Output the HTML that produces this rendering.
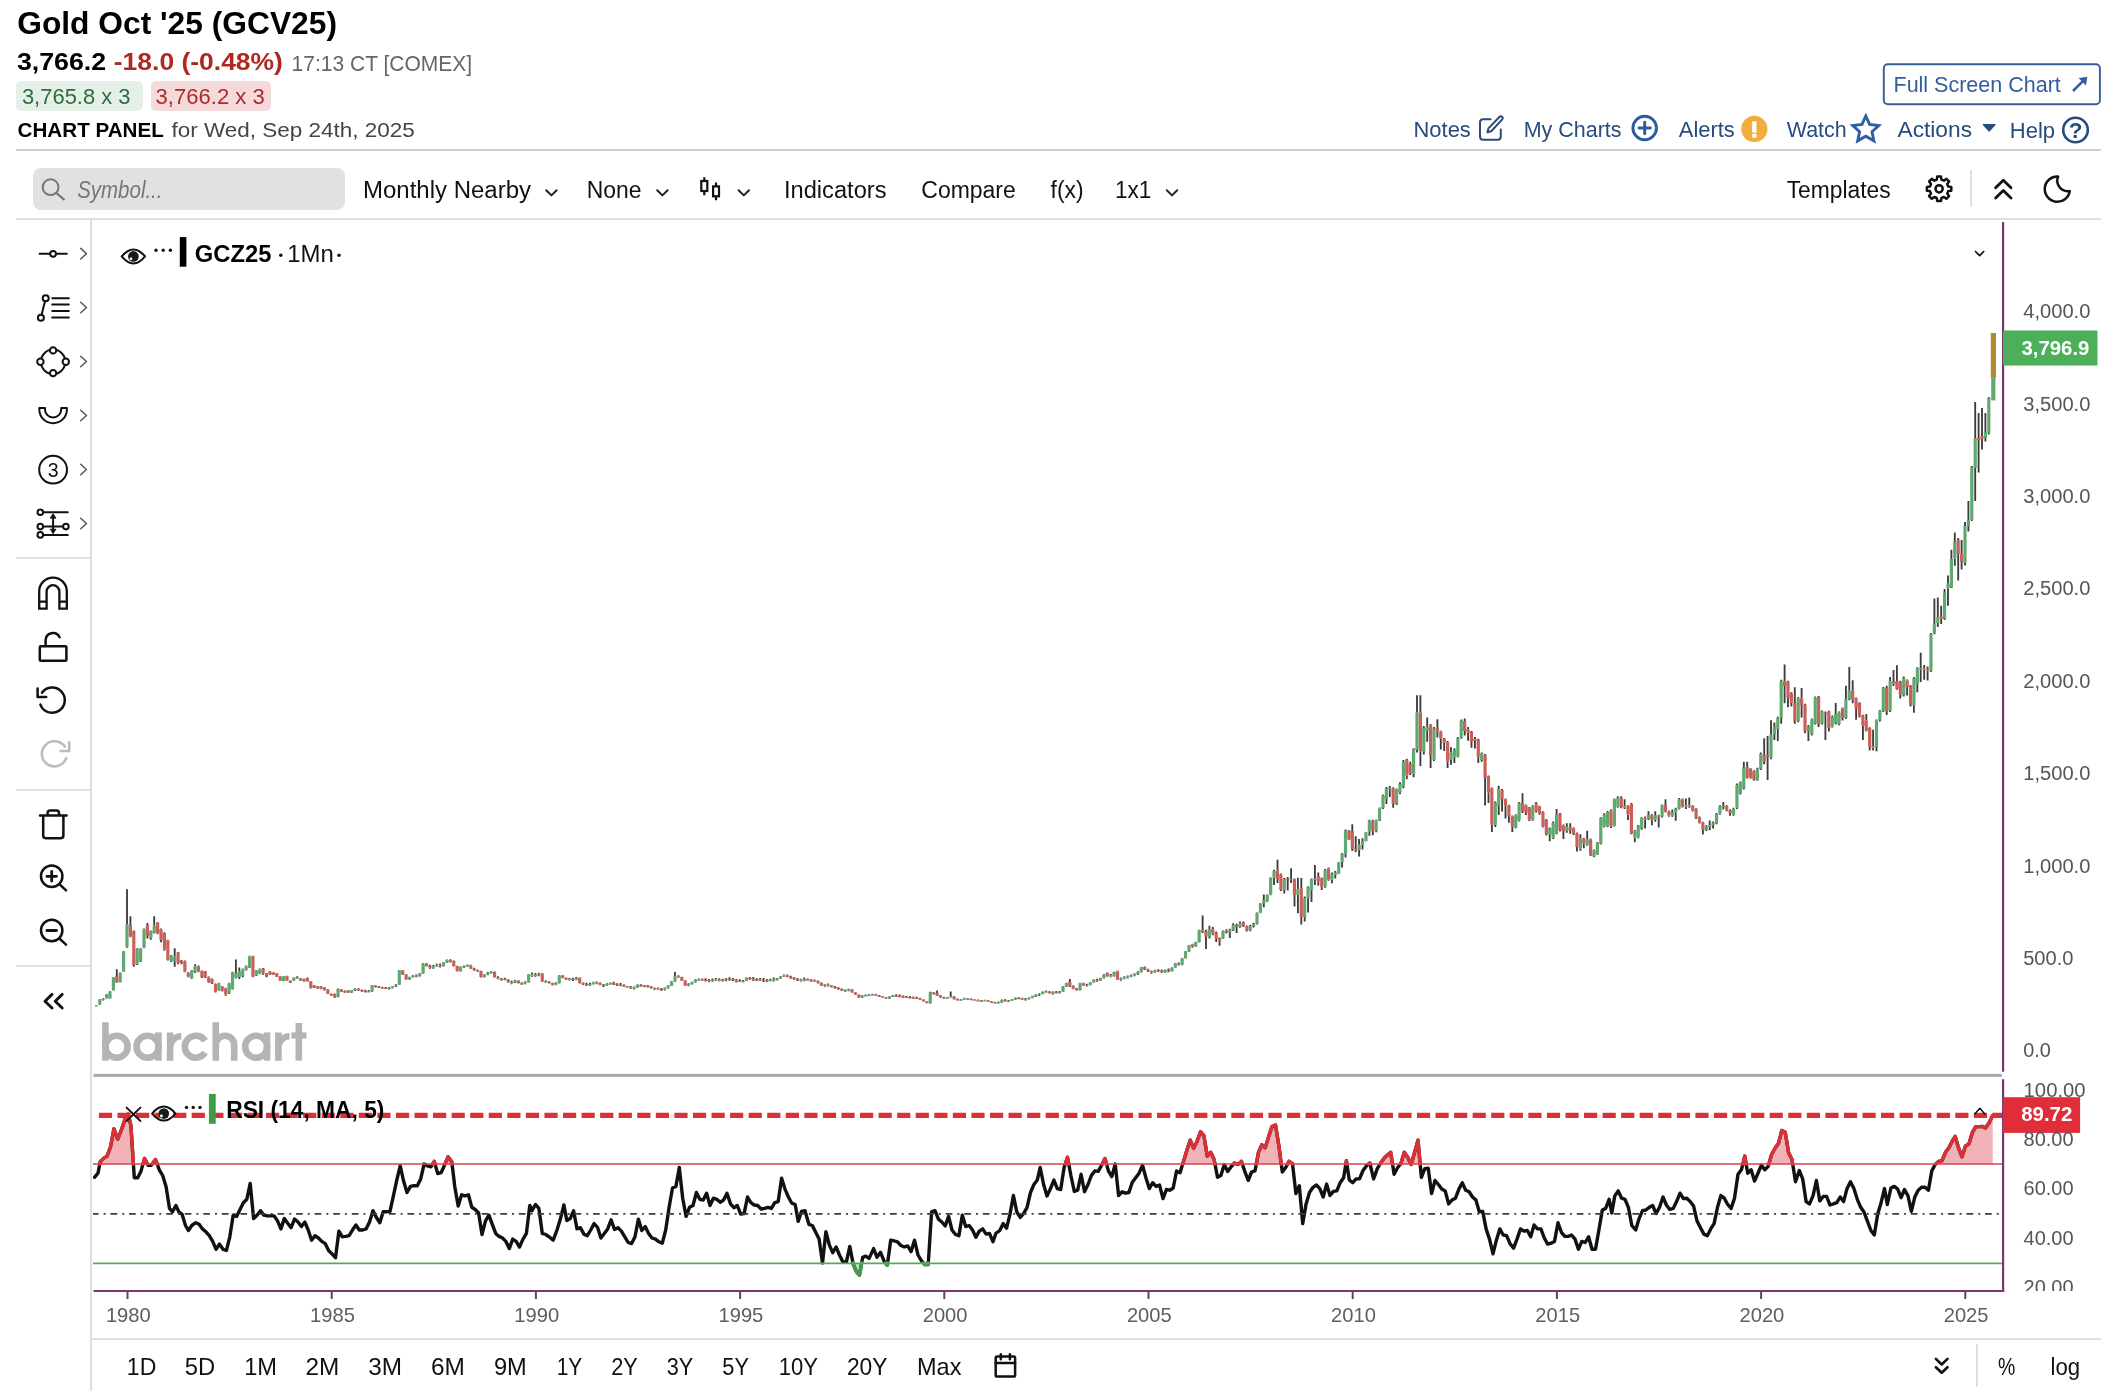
<!DOCTYPE html>
<html><head><meta charset="utf-8"><title>Gold Oct '25 (GCV25) Chart</title>
<style>
html,body{margin:0;padding:0;background:#fff;}
body{width:2112px;height:1400px;position:relative;overflow:hidden;font-family:"Liberation Sans",sans-serif;color:#111;}
.t{position:absolute;white-space:nowrap;line-height:1;transform-origin:0 0;}
.b{font-weight:bold;}
.i{font-style:italic;}
.hl{position:absolute;height:2px;background:#d4d4d4;}
.vl{position:absolute;width:2px;background:#dedede;}
.box{position:absolute;}
svg{position:absolute;left:0;top:0;overflow:visible;}
</style></head><body>
<!-- header boxes -->
<div class="box" style="left:16px;top:80.9px;width:126.6px;height:30px;background:#e4f0e7;border-radius:5px;"></div>
<div class="box" style="left:150.8px;top:80.9px;width:120.1px;height:30px;background:#f5dadb;border-radius:5px;"></div>
<!-- rules -->
<div class="hl" style="left:16px;top:149px;width:2085px;background:#cfcfcf;"></div>
<div class="hl" style="left:16px;top:218px;width:2085px;background:#e0e0e0;"></div>
<div class="vl" style="left:90px;top:219px;height:1172px;"></div>
<div class="hl" style="left:16px;top:557px;width:75px;background:#e0e0e0;"></div>
<div class="hl" style="left:16px;top:789px;width:75px;background:#e0e0e0;"></div>
<div class="hl" style="left:16px;top:965px;width:75px;background:#e0e0e0;"></div>
<div class="hl" style="left:91px;top:1338px;width:2010px;background:#e0e0e0;"></div>
<div class="vl" style="left:1969.5px;top:170px;height:37px;background:#e0e0e0;"></div>
<div class="vl" style="left:1975.5px;top:1344px;height:43px;background:#e0e0e0;"></div>
<!-- search box -->
<div class="box" style="left:33.2px;top:167.7px;width:311.8px;height:41.9px;background:#e1e1e1;border-radius:8px;"></div>
<svg width="2112" height="1400" viewBox="0 0 2112 1400">
<defs><clipPath id="cp"><rect x="93" y="222" width="1909.5" height="852"/></clipPath>
<clipPath id="cl"><rect x="2000" y="1070" width="112" height="221"/></clipPath>
<clipPath id="cr"><rect x="93" y="1078" width="1909.5" height="212"/></clipPath></defs>
<!-- chart frame -->
<rect x="93.5" y="1073.9" width="1908.3" height="3" fill="#aaaaaa"/>
<g clip-path="url(#cr)">
<path d="M99.8 1164.0L100.2 1161.8L103.6 1158.4L107.0 1156.1L110.5 1147.0L113.9 1128.9L117.7 1139.1L121.8 1128.9L125.2 1118.6L128.2 1114.1L130.9 1125.5L133.4 1164.0L133.4 1164.0L99.8 1164.0Z" fill="#f2b3b8" stroke="none"/>
<path d="M143.0 1164.0L144.5 1158.4L147.3 1164.0L147.3 1164.0L143.0 1164.0Z" fill="#f2b3b8" stroke="none"/>
<path d="M152.2 1164.0L155.5 1159.5L157.1 1164.0L157.1 1164.0L152.2 1164.0Z" fill="#f2b3b8" stroke="none"/>
<path d="M432.7 1164.0L434.3 1161.4L435.1 1164.0L435.1 1164.0L432.7 1164.0Z" fill="#f2b3b8" stroke="none"/>
<path d="M445.0 1164.0L448.0 1156.8L451.8 1161.8L452.1 1164.0L452.1 1164.0L445.0 1164.0Z" fill="#f2b3b8" stroke="none"/>
<path d="M1065.3 1164.0L1067.5 1157.3L1068.8 1164.0L1068.8 1164.0L1065.3 1164.0Z" fill="#f2b3b8" stroke="none"/>
<path d="M1102.2 1164.0L1105.0 1158.4L1106.5 1164.0L1106.5 1164.0L1102.2 1164.0Z" fill="#f2b3b8" stroke="none"/>
<path d="M1182.7 1164.0L1183.4 1161.8L1186.8 1150.5L1190.2 1140.2L1193.6 1148.2L1197.0 1141.4L1200.5 1131.8L1203.9 1135.7L1207.3 1156.1L1210.7 1152.3L1214.1 1159.5L1214.9 1164.0L1214.9 1164.0L1182.7 1164.0Z" fill="#f2b3b8" stroke="none"/>
<path d="M1233.6 1164.0L1234.5 1163.0L1236.8 1164.0L1236.8 1164.0L1233.6 1164.0Z" fill="#f2b3b8" stroke="none"/>
<path d="M1238.5 1164.0L1241.4 1161.4L1242.3 1164.0L1242.3 1164.0L1238.5 1164.0Z" fill="#f2b3b8" stroke="none"/>
<path d="M1256.3 1164.0L1258.4 1152.7L1261.8 1144.8L1265.2 1147.7L1268.6 1136.8L1272.0 1126.6L1275.5 1125.0L1278.9 1145.9L1281.2 1164.0L1281.2 1164.0L1256.3 1164.0Z" fill="#f2b3b8" stroke="none"/>
<path d="M1287.6 1164.0L1289.1 1161.4L1292.5 1163.6L1292.5 1164.0L1292.5 1164.0L1287.6 1164.0Z" fill="#f2b3b8" stroke="none"/>
<path d="M1345.8 1164.0L1346.4 1160.7L1346.9 1164.0L1346.9 1164.0L1345.8 1164.0Z" fill="#f2b3b8" stroke="none"/>
<path d="M1368.6 1164.0L1369.8 1163.0L1370.0 1164.0L1370.0 1164.0L1368.6 1164.0Z" fill="#f2b3b8" stroke="none"/>
<path d="M1380.1 1164.0L1381.1 1162.3L1384.5 1157.7L1388.0 1154.5L1390.7 1152.3L1392.5 1164.0L1392.5 1164.0L1380.1 1164.0Z" fill="#f2b3b8" stroke="none"/>
<path d="M1400.6 1164.0L1400.9 1163.6L1404.3 1152.3L1407.7 1157.3L1410.9 1164.0L1410.9 1164.0L1400.6 1164.0Z" fill="#f2b3b8" stroke="none"/>
<path d="M1411.3 1164.0L1414.5 1152.7L1418.0 1140.2L1420.1 1164.0L1420.1 1164.0L1411.3 1164.0Z" fill="#f2b3b8" stroke="none"/>
<path d="M1742.8 1164.0L1744.8 1156.1L1746.1 1164.0L1746.1 1164.0L1742.8 1164.0Z" fill="#f2b3b8" stroke="none"/>
<path d="M1768.9 1164.0L1771.6 1154.5L1775.0 1148.2L1778.4 1143.6L1781.8 1130.5L1785.2 1132.3L1788.6 1152.7L1792.0 1159.5L1792.7 1164.0L1792.7 1164.0L1768.9 1164.0Z" fill="#f2b3b8" stroke="none"/>
<path d="M1935.8 1164.0L1938.6 1161.4L1942.0 1160.7L1945.5 1152.3L1948.9 1147.7L1952.3 1140.9L1955.2 1136.4L1958.6 1148.2L1962.0 1156.8L1965.5 1145.9L1968.9 1144.1L1972.3 1132.7L1975.7 1126.6L1979.1 1126.6L1982.5 1126.5L1985.5 1128.0L1989.0 1123.0L1992.7 1115.4L1992.7 1164.0L1935.8 1164.0Z" fill="#f2b3b8" stroke="none"/>
<path d="M853.0 1263.0L853.2 1264.1L856.6 1272.0L859.5 1275.0L861.7 1263.0L861.7 1263.0L853.0 1263.0Z" fill="#bfe3c3" stroke="none"/>
<path d="M885.6 1263.0L887.3 1265.2L887.6 1263.0L887.6 1263.0L885.6 1263.0Z" fill="#bfe3c3" stroke="none"/>
<path d="M923.4 1263.0L924.8 1264.5L928.2 1264.5L928.3 1263.0L928.3 1263.0L923.4 1263.0Z" fill="#bfe3c3" stroke="none"/>
<path d="M94.5 1177.3L98.0 1173.2L100.2 1161.8L103.6 1158.4L107.0 1156.1L110.5 1147.0L113.9 1128.9L117.7 1139.1L121.8 1128.9L125.2 1118.6L128.2 1114.1L130.9 1125.5L134.3 1177.7L137.7 1177.7L141.1 1170.9L144.5 1158.4L148.0 1165.2L151.4 1165.2L155.5 1159.5L159.3 1169.8L162.7 1175.5L166.1 1186.8L169.5 1208.4L172.5 1211.8L175.9 1205.5L179.1 1212.3L182.0 1214.1L185.5 1225.5L188.4 1230.5L191.8 1225.5L195.7 1222.7L199.1 1224.3L202.5 1228.9L205.9 1231.8L209.3 1235.7L212.7 1241.4L216.1 1249.3L219.5 1244.1L223.0 1249.3L226.4 1250.5L229.8 1236.8L233.2 1215.2L236.6 1216.4L240.0 1209.5L243.4 1202.7L246.8 1199.3L250.2 1183.4L253.6 1218.6L257.0 1215.2L260.5 1210.7L263.9 1215.2L267.3 1215.9L270.7 1215.9L274.1 1215.9L277.5 1220.9L280.9 1228.9L284.3 1218.6L287.7 1223.2L291.1 1227.7L294.5 1219.1L298.0 1222.0L301.4 1226.6L304.8 1222.0L308.2 1230.0L311.6 1240.2L315.0 1235.7L318.4 1238.0L321.8 1241.4L325.2 1243.6L328.6 1250.5L332.0 1253.9L335.5 1257.7L338.9 1231.1L342.3 1236.8L345.7 1236.4L349.1 1235.7L352.5 1230.0L355.9 1225.0L359.3 1230.0L362.7 1230.0L366.1 1228.9L369.5 1222.0L373.0 1210.7L376.4 1217.5L379.8 1222.7L383.2 1211.8L386.6 1211.8L390.0 1211.4L393.4 1195.9L396.8 1180.0L400.2 1165.9L403.6 1181.1L407.0 1192.5L410.5 1186.4L413.9 1185.7L417.3 1185.7L420.7 1178.9L424.1 1164.1L427.5 1165.9L430.9 1166.8L434.3 1161.4L437.7 1173.6L441.1 1172.7L444.5 1165.2L448.0 1156.8L451.8 1161.8L454.8 1186.8L458.2 1206.1L461.6 1194.8L465.0 1195.9L468.4 1194.8L471.8 1207.3L475.2 1209.5L478.6 1213.0L482.0 1234.5L485.5 1220.9L488.9 1215.2L492.3 1224.3L495.7 1233.4L499.1 1236.4L502.5 1238.0L505.9 1241.4L509.3 1248.6L512.7 1239.1L516.1 1241.4L519.5 1247.0L523.0 1239.1L526.4 1233.4L529.8 1205.5L532.0 1210.7L535.5 1204.5L538.9 1208.4L542.3 1233.4L545.7 1234.5L549.1 1236.8L553.2 1240.2L557.0 1230.0L560.5 1218.6L563.9 1205.0L566.8 1220.5L570.2 1218.6L573.6 1210.7L577.0 1228.9L580.5 1227.7L583.9 1234.1L587.3 1235.7L590.7 1230.0L594.1 1223.6L597.5 1227.3L600.9 1238.0L604.3 1233.4L607.7 1228.9L611.1 1219.8L614.5 1229.5L618.0 1227.7L621.4 1231.1L624.8 1236.8L628.2 1242.5L631.6 1243.6L635.0 1236.8L638.4 1219.1L641.8 1230.5L645.2 1226.6L648.6 1233.4L652.0 1238.0L655.5 1239.1L658.9 1241.8L662.3 1243.2L665.7 1230.0L669.1 1207.3L672.5 1188.0L675.9 1186.4L679.3 1167.5L682.7 1198.2L686.1 1216.4L689.5 1207.3L693.0 1205.5L696.4 1192.5L699.8 1199.3L703.2 1200.0L706.6 1193.2L710.0 1205.5L713.4 1198.2L716.8 1199.3L720.2 1202.3L723.6 1200.0L727.0 1193.2L730.5 1203.9L733.9 1207.7L737.3 1205.5L740.7 1214.1L744.1 1213.6L747.5 1197.0L750.9 1202.7L754.3 1205.0L757.7 1205.5L761.1 1209.1L764.5 1208.4L768.0 1207.3L771.4 1208.4L774.8 1202.7L778.2 1201.6L781.6 1178.2L785.0 1189.1L788.4 1197.0L791.8 1203.2L795.2 1204.5L798.2 1221.4L801.4 1211.4L805.0 1210.7L808.9 1224.3L812.3 1225.5L815.7 1232.3L819.1 1239.1L822.5 1263.0L825.9 1231.8L829.3 1244.8L832.7 1252.7L836.1 1247.0L839.5 1255.0L843.0 1262.3L846.4 1261.8L849.8 1246.4L853.2 1264.1L856.6 1272.0L859.5 1275.0L862.7 1257.3L865.7 1256.1L869.1 1258.4L873.6 1248.6L877.0 1257.3L880.5 1252.3L883.9 1260.7L887.3 1265.2L890.7 1240.2L894.1 1240.9L897.5 1241.8L900.9 1245.5L904.3 1247.0L907.7 1245.9L911.1 1251.6L914.5 1240.2L918.0 1255.0L921.4 1260.7L924.8 1264.5L928.2 1264.5L931.6 1211.8L935.0 1210.7L938.4 1219.1L941.8 1222.0L945.2 1225.9L948.6 1216.4L952.0 1230.0L955.5 1234.5L958.9 1235.7L962.3 1215.2L965.7 1226.6L969.1 1225.5L972.5 1230.0L975.9 1237.3L979.3 1231.1L982.7 1228.9L986.1 1234.1L989.5 1233.4L993.0 1241.8L995.9 1233.4L999.8 1230.5L1003.2 1223.6L1006.6 1228.2L1010.0 1214.1L1013.4 1195.5L1016.8 1211.8L1020.2 1217.5L1023.6 1213.6L1027.0 1207.7L1030.5 1192.5L1033.9 1184.5L1037.3 1180.0L1040.2 1167.5L1043.6 1184.5L1047.0 1195.9L1050.5 1188.6L1053.9 1180.0L1057.3 1188.6L1060.7 1189.5L1064.1 1167.5L1067.5 1157.3L1070.9 1175.5L1074.3 1191.4L1077.7 1190.2L1081.1 1174.3L1084.5 1191.8L1088.0 1184.5L1091.4 1175.5L1094.8 1170.9L1098.2 1171.4L1101.6 1165.2L1105.0 1158.4L1108.4 1170.9L1111.8 1176.6L1115.2 1164.1L1118.6 1195.5L1122.0 1191.8L1125.5 1193.2L1128.9 1192.5L1132.3 1182.3L1135.7 1177.7L1139.1 1173.2L1142.5 1165.2L1145.9 1177.7L1149.3 1188.6L1152.7 1182.7L1156.1 1186.4L1159.5 1185.0L1163.0 1198.6L1166.4 1189.5L1169.8 1190.2L1173.2 1188.0L1176.6 1170.9L1180.0 1172.7L1183.4 1161.8L1186.8 1150.5L1190.2 1140.2L1193.6 1148.2L1197.0 1141.4L1200.5 1131.8L1203.9 1135.7L1207.3 1156.1L1210.7 1152.3L1214.1 1159.5L1217.5 1177.3L1220.9 1175.5L1224.3 1164.5L1227.7 1171.4L1231.1 1166.8L1234.5 1163.0L1238.0 1164.5L1241.4 1161.4L1244.8 1171.4L1248.2 1180.5L1251.6 1172.0L1255.0 1170.9L1258.4 1152.7L1261.8 1144.8L1265.2 1147.7L1268.6 1136.8L1272.0 1126.6L1275.5 1125.0L1278.9 1145.9L1282.3 1172.0L1285.7 1167.5L1289.1 1161.4L1292.5 1163.6L1295.9 1193.6L1299.3 1185.7L1302.7 1223.6L1306.1 1203.9L1309.5 1192.5L1313.0 1187.3L1316.4 1185.0L1319.8 1188.6L1323.2 1197.0L1326.6 1184.1L1330.0 1195.5L1333.4 1191.4L1336.8 1190.9L1340.2 1182.7L1343.6 1177.7L1346.4 1160.7L1349.3 1180.0L1352.7 1182.7L1356.1 1178.9L1359.5 1178.9L1363.0 1170.5L1366.4 1165.9L1369.8 1163.0L1373.6 1178.9L1377.3 1168.6L1381.1 1162.3L1384.5 1157.7L1388.0 1154.5L1390.7 1152.3L1394.1 1174.3L1397.7 1167.5L1400.9 1163.6L1404.3 1152.3L1407.7 1157.3L1411.1 1164.5L1414.5 1152.7L1418.0 1140.2L1421.4 1177.3L1424.8 1168.6L1428.2 1168.2L1431.6 1193.6L1435.0 1180.5L1438.4 1184.5L1441.8 1189.1L1445.2 1190.9L1448.6 1203.9L1452.0 1200.0L1455.5 1198.2L1458.9 1189.1L1462.3 1182.7L1465.7 1190.2L1469.1 1191.8L1472.5 1197.0L1475.9 1200.0L1479.3 1211.8L1482.7 1211.4L1486.1 1228.9L1489.5 1239.1L1493.0 1253.9L1496.4 1240.2L1499.8 1228.9L1503.2 1235.0L1506.6 1235.7L1510.0 1243.6L1513.6 1248.2L1517.0 1239.1L1520.5 1228.9L1523.9 1231.1L1527.3 1230.5L1530.7 1236.8L1534.1 1225.0L1537.5 1228.9L1540.9 1228.9L1544.3 1238.0L1547.7 1244.1L1551.1 1243.2L1554.5 1241.4L1558.0 1222.7L1561.4 1232.3L1564.8 1236.4L1568.2 1236.4L1571.6 1235.0L1575.0 1239.1L1578.4 1249.3L1581.8 1241.4L1585.2 1242.5L1588.6 1236.8L1592.0 1249.3L1595.5 1249.3L1598.9 1230.0L1602.3 1210.0L1605.7 1208.4L1609.1 1199.3L1611.8 1213.0L1614.8 1195.9L1618.2 1190.9L1621.6 1198.2L1625.0 1199.3L1628.4 1207.3L1631.8 1225.5L1635.7 1230.0L1639.1 1218.6L1642.5 1210.7L1645.9 1210.0L1649.3 1207.3L1652.7 1205.5L1656.1 1213.6L1659.5 1207.3L1663.0 1197.0L1666.4 1205.0L1669.8 1209.5L1673.2 1208.4L1676.6 1201.6L1680.0 1193.2L1683.4 1198.6L1686.8 1198.2L1690.2 1201.6L1693.6 1206.1L1697.0 1220.9L1700.5 1227.7L1703.9 1234.1L1707.3 1235.7L1710.7 1228.9L1714.1 1223.6L1717.5 1207.3L1720.9 1195.5L1724.3 1198.2L1727.7 1204.5L1731.1 1208.4L1734.5 1198.2L1738.0 1174.3L1741.4 1169.8L1744.8 1156.1L1747.7 1173.2L1751.1 1169.8L1754.5 1181.1L1758.0 1173.2L1761.4 1165.2L1764.8 1169.8L1768.2 1166.4L1771.6 1154.5L1775.0 1148.2L1778.4 1143.6L1781.8 1130.5L1785.2 1132.3L1788.6 1152.7L1792.0 1159.5L1795.5 1181.8L1799.3 1170.5L1802.7 1178.9L1806.1 1201.6L1809.5 1203.9L1813.0 1195.9L1816.4 1180.5L1819.8 1200.9L1823.2 1196.4L1826.6 1196.4L1830.0 1205.0L1833.4 1203.9L1836.8 1202.7L1840.2 1197.0L1843.6 1201.6L1847.0 1188.6L1850.5 1181.8L1853.9 1188.6L1857.3 1199.3L1860.7 1207.3L1864.1 1212.3L1867.5 1221.4L1870.9 1230.5L1874.3 1235.0L1877.7 1214.1L1881.1 1202.7L1884.5 1188.6L1887.3 1204.5L1890.9 1188.0L1894.3 1186.4L1897.7 1189.1L1901.1 1197.7L1904.5 1189.5L1908.0 1195.9L1911.4 1211.4L1914.8 1197.0L1918.2 1190.2L1921.6 1187.3L1925.0 1187.3L1928.4 1190.2L1931.8 1170.9L1935.2 1164.5L1938.6 1161.4L1942.0 1160.7L1945.5 1152.3L1948.9 1147.7L1952.3 1140.9L1955.2 1136.4L1958.6 1148.2L1962.0 1156.8L1965.5 1145.9L1968.9 1144.1L1972.3 1132.7L1975.7 1126.6L1979.1 1126.6L1982.5 1126.5L1985.5 1128.0L1989.0 1123.0L1992.7 1115.4" fill="none" stroke="#111" stroke-width="3.4" stroke-linejoin="round" stroke-linecap="round"/>
<path d="M99.8 1164.0L100.2 1161.8L103.6 1158.4L107.0 1156.1L110.5 1147.0L113.9 1128.9L117.7 1139.1L121.8 1128.9L125.2 1118.6L128.2 1114.1L130.9 1125.5L133.4 1164.0" fill="none" stroke="#dc3038" stroke-width="3.4" stroke-linejoin="round" stroke-linecap="round"/>
<path d="M143.0 1164.0L144.5 1158.4L147.3 1164.0" fill="none" stroke="#dc3038" stroke-width="3.4" stroke-linejoin="round" stroke-linecap="round"/>
<path d="M152.2 1164.0L155.5 1159.5L157.1 1164.0" fill="none" stroke="#dc3038" stroke-width="3.4" stroke-linejoin="round" stroke-linecap="round"/>
<path d="M432.7 1164.0L434.3 1161.4L435.1 1164.0" fill="none" stroke="#dc3038" stroke-width="3.4" stroke-linejoin="round" stroke-linecap="round"/>
<path d="M445.0 1164.0L448.0 1156.8L451.8 1161.8L452.1 1164.0" fill="none" stroke="#dc3038" stroke-width="3.4" stroke-linejoin="round" stroke-linecap="round"/>
<path d="M1065.3 1164.0L1067.5 1157.3L1068.8 1164.0" fill="none" stroke="#dc3038" stroke-width="3.4" stroke-linejoin="round" stroke-linecap="round"/>
<path d="M1102.2 1164.0L1105.0 1158.4L1106.5 1164.0" fill="none" stroke="#dc3038" stroke-width="3.4" stroke-linejoin="round" stroke-linecap="round"/>
<path d="M1182.7 1164.0L1183.4 1161.8L1186.8 1150.5L1190.2 1140.2L1193.6 1148.2L1197.0 1141.4L1200.5 1131.8L1203.9 1135.7L1207.3 1156.1L1210.7 1152.3L1214.1 1159.5L1214.9 1164.0" fill="none" stroke="#dc3038" stroke-width="3.4" stroke-linejoin="round" stroke-linecap="round"/>
<path d="M1233.6 1164.0L1234.5 1163.0L1236.8 1164.0" fill="none" stroke="#dc3038" stroke-width="3.4" stroke-linejoin="round" stroke-linecap="round"/>
<path d="M1238.5 1164.0L1241.4 1161.4L1242.3 1164.0" fill="none" stroke="#dc3038" stroke-width="3.4" stroke-linejoin="round" stroke-linecap="round"/>
<path d="M1256.3 1164.0L1258.4 1152.7L1261.8 1144.8L1265.2 1147.7L1268.6 1136.8L1272.0 1126.6L1275.5 1125.0L1278.9 1145.9L1281.2 1164.0" fill="none" stroke="#dc3038" stroke-width="3.4" stroke-linejoin="round" stroke-linecap="round"/>
<path d="M1287.6 1164.0L1289.1 1161.4L1292.5 1163.6L1292.5 1164.0" fill="none" stroke="#dc3038" stroke-width="3.4" stroke-linejoin="round" stroke-linecap="round"/>
<path d="M1345.8 1164.0L1346.4 1160.7L1346.9 1164.0" fill="none" stroke="#dc3038" stroke-width="3.4" stroke-linejoin="round" stroke-linecap="round"/>
<path d="M1368.6 1164.0L1369.8 1163.0L1370.0 1164.0" fill="none" stroke="#dc3038" stroke-width="3.4" stroke-linejoin="round" stroke-linecap="round"/>
<path d="M1380.1 1164.0L1381.1 1162.3L1384.5 1157.7L1388.0 1154.5L1390.7 1152.3L1392.5 1164.0" fill="none" stroke="#dc3038" stroke-width="3.4" stroke-linejoin="round" stroke-linecap="round"/>
<path d="M1400.6 1164.0L1400.9 1163.6L1404.3 1152.3L1407.7 1157.3L1410.9 1164.0" fill="none" stroke="#dc3038" stroke-width="3.4" stroke-linejoin="round" stroke-linecap="round"/>
<path d="M1411.3 1164.0L1414.5 1152.7L1418.0 1140.2L1420.1 1164.0" fill="none" stroke="#dc3038" stroke-width="3.4" stroke-linejoin="round" stroke-linecap="round"/>
<path d="M1742.8 1164.0L1744.8 1156.1L1746.1 1164.0" fill="none" stroke="#dc3038" stroke-width="3.4" stroke-linejoin="round" stroke-linecap="round"/>
<path d="M1768.9 1164.0L1771.6 1154.5L1775.0 1148.2L1778.4 1143.6L1781.8 1130.5L1785.2 1132.3L1788.6 1152.7L1792.0 1159.5L1792.7 1164.0" fill="none" stroke="#dc3038" stroke-width="3.4" stroke-linejoin="round" stroke-linecap="round"/>
<path d="M1935.8 1164.0L1938.6 1161.4L1942.0 1160.7L1945.5 1152.3L1948.9 1147.7L1952.3 1140.9L1955.2 1136.4L1958.6 1148.2L1962.0 1156.8L1965.5 1145.9L1968.9 1144.1L1972.3 1132.7L1975.7 1126.6L1979.1 1126.6L1982.5 1126.5L1985.5 1128.0L1989.0 1123.0L1992.7 1115.4" fill="none" stroke="#dc3038" stroke-width="3.4" stroke-linejoin="round" stroke-linecap="round"/>
<path d="M853.0 1263.0L853.2 1264.1L856.6 1272.0L859.5 1275.0L861.7 1263.0" fill="none" stroke="#3f9f48" stroke-width="3.4" stroke-linejoin="round" stroke-linecap="round"/>
<path d="M885.6 1263.0L887.3 1265.2L887.6 1263.0" fill="none" stroke="#3f9f48" stroke-width="3.4" stroke-linejoin="round" stroke-linecap="round"/>
<path d="M923.4 1263.0L924.8 1264.5L928.2 1264.5L928.3 1263.0" fill="none" stroke="#3f9f48" stroke-width="3.4" stroke-linejoin="round" stroke-linecap="round"/>
<path d="M93 1164H2003" stroke="#d0454a" stroke-width="1.6"/>
<path d="M93 1263.3H2003" stroke="#55aa60" stroke-width="1.7"/>
<path d="M93 1213.9H2003" stroke="#3c3c3c" stroke-width="1.6" stroke-dasharray="6.7 5 2 4.86" stroke-dashoffset="1.06"/>
</g>
<path d="M98.9 1115.4H2003" stroke="#dc3038" stroke-width="5.2" stroke-dasharray="13.2 5.364"/>
<g clip-path="url(#cp)">
<path d="M96.4 1004.9V1005.6M99.8 999.1V999.7M99.8 1004.0V1004.7M103.2 998.3V999.1M103.2 999.8V1000.4M106.6 994.1V994.8M106.6 997.9V998.5M110.0 991.1V991.7M110.0 997.9V998.5M113.4 976.9V977.6M113.4 989.9V990.5M116.8 969.3V976.3M116.8 981.9V982.8M120.2 972.6V973.2M120.2 981.9V982.5M123.6 951.1V951.7M123.6 971.4V972.1M127.0 889.2V924.6M127.0 946.8V947.7M130.4 916.3V925.2M130.4 936.3V937.2M133.8 930.5V931.4M133.8 964.6V966.8M137.2 948.3V949.2M137.2 963.4V964.9M140.6 948.3V949.2M140.6 961.0V961.9M144.0 928.6V929.5M144.0 947.4V948.3M147.4 923.1V925.2M147.4 935.7V938.5M150.8 930.5V931.4M150.8 937.6V939.7M154.2 916.3V925.8M154.2 932.6V933.6M157.6 921.9V922.8M157.6 933.3V934.2M161.0 928.6V929.5M161.0 940.0V942.2M164.4 932.3V933.2M164.4 949.3V950.8M167.8 939.7V940.6M167.8 959.1V960.6M171.2 955.1V956.0M171.2 961.0V961.9M174.7 948.3V956.6M174.7 961.0V966.8M178.1 952.0V952.9M178.1 962.8V964.3M181.5 960.0V960.9M181.5 962.8V964.3M184.9 960.6V961.6M184.9 971.4V972.3M188.3 972.3V973.2M188.3 976.3V977.3M191.7 969.9V970.8M191.7 978.2V979.1M195.1 964.3V966.5M195.1 972.0V972.9M198.5 965.6V966.5M198.5 971.4V972.3M201.9 970.5V971.4M201.9 977.0V977.9M205.3 971.1V972.0M205.3 977.0V977.9M208.7 976.6V977.6M208.7 981.9V982.8M212.1 978.5V979.4M212.1 983.1V984.0M215.5 983.4V984.3M215.5 991.1V992.6M218.9 982.8V983.7M218.9 989.9V990.8M222.3 985.9V986.8M222.3 990.5V991.4M225.7 987.7V988.6M225.7 994.2V995.7M229.1 982.8V983.7M229.1 993.0V993.9M232.5 971.7V972.6M232.5 988.6V989.6M235.9 959.4V973.2M235.9 977.6V978.5M239.3 967.4V971.4M239.3 977.0V979.1M242.7 968.6V969.6M242.7 975.7V977.3M246.1 965.6V966.5M246.1 969.6V970.5M249.5 955.7V956.6M249.5 967.1V968.0M252.9 955.7V956.6M252.9 976.3V977.3M256.3 969.9V970.8M256.3 975.1V976.0M259.7 968.6V969.6M259.7 973.3V974.2M263.1 968.0V968.9M263.1 973.3V974.8M266.6 972.9V973.9M266.6 975.7V977.3M270.0 971.3V972.0M270.0 973.9V974.7M273.4 972.0V972.6M273.4 974.5V975.1M276.8 973.2V973.9M276.8 976.3V977.0M280.2 976.3V976.9M280.2 980.4V981.1M283.6 976.3V976.9M283.6 980.6V981.3M287.0 975.7V976.3M287.0 980.4V981.1M290.4 980.5V981.2M290.4 982.1V983.1M293.8 977.5V978.2M293.8 980.0V980.7M297.2 976.2V977.3M297.2 978.2V978.9M300.6 978.1V978.8M300.6 980.0V980.7M304.0 978.7V979.4M304.0 980.9V981.5M307.4 977.5V978.2M307.4 980.9V981.5M310.8 981.2V981.9M310.8 987.8V988.4M314.2 985.2V985.9M314.2 987.2V987.9M317.6 986.3V986.9M317.6 988.0V988.8M321.0 986.3V986.9M321.0 988.5V989.2M324.4 987.0V987.6M324.4 989.9V990.5M327.8 989.2V989.9M327.8 993.3V994.0M331.2 993.4V994.2M331.2 994.9V995.7M334.6 993.5V994.2M334.6 997.0V997.7M338.0 988.6V989.2M338.0 996.7V997.3M341.4 989.2V989.9M341.4 991.5V992.1M344.8 990.4V991.3M344.8 992.2V992.9M348.2 990.2V990.9M348.2 992.1V992.7M351.6 989.9V990.5M351.6 992.1V992.7M355.0 988.2V989.3M355.0 990.0V991.1M358.5 988.3V989.3M358.5 990.0V990.8M361.9 989.4V990.2M361.9 990.9V991.7M365.3 989.7V991.0M365.3 991.7V992.6M368.7 989.9V991.5M372.1 985.3V985.9M372.1 991.3V991.9M375.5 985.2V985.9M375.5 986.6V987.5M378.9 986.1V987.1M382.3 986.7V987.6M382.3 988.3V989.1M385.7 987.1V988.1M389.1 986.9V988.1M389.1 988.8V989.6M392.5 986.0V986.6M392.5 987.5V988.4M395.9 984.2V985.1M395.9 986.0V987.1M399.3 969.9V970.6M399.3 984.5V985.1M402.7 969.9V970.6M402.7 974.2V974.9M406.1 974.2V974.8M406.1 979.4V980.0M409.5 976.7V977.4M409.5 979.4V980.0M412.9 974.9V975.7M412.9 976.8V977.6M416.3 974.6V975.7M416.3 976.4V977.3M419.7 973.3V974.0M419.7 975.9V976.6M423.1 963.1V963.8M423.1 973.4V974.0M426.5 963.1V963.8M426.5 965.7V966.5M429.9 964.8V966.3M429.9 967.4V968.7M433.3 965.1V966.3M433.3 967.4V968.7M436.7 963.7V965.5M436.7 966.2V966.8M440.1 963.4V965.5M440.1 966.2V967.6M443.5 962.3V962.9M443.5 965.7V966.4M446.9 959.5V960.4M446.9 962.3V963.1M450.4 959.2V960.4M450.4 961.1V962.5M453.8 960.6V961.2M453.8 965.7V966.4M457.2 965.7V966.3M457.2 970.8V971.5M460.6 966.5V967.2M460.6 970.8V971.5M464.0 965.4V966.3M464.0 967.0V967.7M467.4 964.4V965.5M467.4 966.2V967.1M470.8 964.8V965.5M470.8 968.3V968.9M474.2 967.7V968.9M474.2 970.0V970.8M477.6 969.4V970.6M477.6 971.3V972.1M481.0 970.8V971.4M481.0 976.8V977.4M484.4 974.2V974.8M484.4 976.8V977.5M487.8 972.1V973.1M487.8 974.2V975.3M491.2 971.3V972.3M491.2 973.0V973.6M494.6 971.6V972.3M494.6 976.8V977.4M498.0 976.3V977.4M498.0 978.5V979.2M501.4 978.0V979.1M501.4 979.8V980.8M504.8 977.8V979.1M504.8 979.8V980.3M508.2 979.3V980.0M508.2 981.9V982.6M511.6 980.8V982.5M511.6 983.2V984.2M515.0 979.7V980.8M515.0 981.9V982.9M518.4 980.2V980.8M518.4 982.8V983.4M521.8 982.2V983.4M521.8 984.1V984.7M525.2 981.2V982.5M525.2 983.2V984.3M528.6 974.2V974.8M528.6 981.9V982.6M532.0 972.6V974.8M532.0 975.5V976.7M535.4 973.1V974.8M535.4 975.5V976.8M538.8 972.8V974.0M538.8 975.1V976.3M542.3 973.3V974.0M542.3 981.1V981.7M545.7 980.2V981.7M549.1 981.0V981.7M549.1 982.8V983.5M552.5 982.7V983.4M552.5 984.5V985.4M555.9 982.3V983.4M555.9 984.5V985.3M559.3 975.0V975.7M559.3 982.8V983.4M562.7 975.0V975.7M562.7 977.7V978.3M566.1 977.5V978.3M566.1 979.4V980.1M569.5 978.1V979.1M569.5 979.8V980.4M572.9 977.7V979.1M572.9 979.8V981.0M576.3 977.1V978.3M576.3 979.4V980.3M579.7 977.6V978.3M579.7 982.8V983.4M583.1 982.5V983.4M583.1 984.1V985.0M586.5 982.7V984.2M586.5 984.9V985.9M589.9 982.8V984.2M589.9 984.9V985.7M593.3 981.8V982.5M593.3 983.6V984.6M596.7 981.4V982.5M596.7 983.2V984.3M600.1 982.4V983.4M600.1 984.5V985.2M603.5 984.0V985.1M603.5 985.8V986.9M606.9 983.3V984.2M606.9 985.3V986.0M610.3 982.5V983.4M610.3 984.1V984.5M613.7 981.8V983.4M613.7 984.1V985.1M617.1 983.3V984.2M617.1 984.9V985.9M620.5 982.9V985.1M620.5 985.8V986.3M623.9 984.4V985.1M623.9 986.2V987.0M627.3 985.9V986.8M630.7 986.1V987.6M630.7 988.3V989.1M634.2 986.5V987.6M634.2 988.3V989.4M637.6 984.4V985.1M637.6 987.0V987.7M641.0 984.2V985.1M641.0 986.2V986.8M644.4 984.9V985.9M644.4 986.6V987.2M647.8 985.0V985.9M647.8 986.6V987.4M651.2 986.1V986.8M651.2 987.9V988.6M654.6 987.4V988.5M654.6 989.2V989.9M658.0 987.5V988.5M658.0 989.2V989.8M661.4 988.0V989.3M661.4 990.0V990.9M664.8 987.6V988.5M664.8 989.2V990.4M668.2 985.3V985.9M668.2 987.9V988.5M671.6 981.0V981.7M671.6 985.3V986.0M675.0 972.0V976.5M675.0 981.1V981.7M678.4 975.3V976.5M678.4 977.2V977.8M681.8 976.7V977.4M681.8 980.2V980.9M685.2 980.2V980.8M685.2 985.3V986.0M688.6 983.3V984.2M688.6 985.3V986.2M692.0 981.8V982.5M692.0 983.6V984.5M695.4 979.3V980.0M695.4 981.9V982.6M698.8 978.6V979.7M698.8 980.4V981.0M702.2 978.5V979.7M705.6 978.3V980.1M705.6 980.8V981.4M709.0 979.1V980.6M709.0 981.3V982.2M712.4 978.5V980.1M712.4 980.8V981.7M715.8 978.1V979.7M715.8 980.4V981.0M719.2 978.2V979.7M719.2 980.4V981.2M722.6 978.7V980.1M722.6 980.8V981.5M726.1 978.0V978.9M726.1 980.0V981.2M729.5 977.2V978.9M729.5 979.6V980.7M732.9 977.9V979.4M732.9 980.1V980.9M736.3 979.1V980.6M736.3 981.3V982.4M739.7 979.2V981.1M743.1 980.0V981.1M743.1 981.8V982.3M746.5 977.4V978.0M746.5 980.5V981.1M749.9 977.1V978.0M749.9 978.7V979.8M753.3 977.1V978.9M753.3 979.6V980.7M756.7 978.3V979.4M756.7 980.1V980.9M760.1 978.0V979.7M763.5 978.1V980.1M763.5 980.8V981.9M766.9 979.1V980.4M766.9 981.1V982.1M770.3 978.7V980.1M770.3 980.8V981.3M773.7 977.6V979.7M773.7 980.4V981.4M777.1 977.9V978.9M777.1 979.6V980.4M780.5 975.9V976.7M780.5 978.3V978.9M783.9 974.5V975.5M783.9 976.2V977.1M787.3 974.4V975.5M787.3 976.6V977.2M790.7 975.8V977.2M790.7 977.9V978.7M794.1 977.3V978.0M794.1 978.8V979.7M797.5 977.9V979.4M797.5 980.1V980.9M800.9 978.7V979.7M800.9 980.4V981.6M804.3 977.5V979.4M804.3 980.1V981.2M807.7 978.4V979.4M807.7 980.1V980.6M811.1 979.2V980.1M811.1 980.8V981.8M814.5 979.6V980.8M814.5 981.5V981.8M818.0 980.6V981.4M818.0 982.5V983.6M821.4 982.5V983.1M821.4 985.1V985.7M824.8 983.9V984.8M824.8 985.5V986.7M828.2 983.6V984.8M828.2 985.5V986.4M831.6 985.0V985.7M831.6 986.8V987.4M835.0 985.9V987.4M835.0 988.1V988.5M838.4 987.2V987.9M838.4 988.6V989.7M841.8 988.4V989.1M841.8 990.2V991.0M845.2 989.4V990.3M845.2 991.0V991.8M848.6 988.8V989.6M848.6 990.3V991.2M852.0 989.0V989.6M852.0 991.9V992.6M855.4 991.9V992.5M855.4 994.5V995.1M858.8 994.4V995.1M858.8 997.0V997.7M862.2 995.3V995.9M862.2 997.0V997.7M865.6 994.6V995.4M869.0 994.2V995.1M872.4 993.7V994.7M875.8 993.8V994.7M875.8 995.4V996.0M879.2 995.0V995.9M882.6 995.9V996.8M886.0 997.0V997.6M886.0 998.3V998.9M889.4 996.1V996.8M889.4 998.2V998.9M892.8 995.1V995.9M892.8 996.6V997.1M896.2 994.3V995.9M899.6 994.6V996.2M903.0 995.4V996.4M903.0 997.1V997.8M906.4 995.9V997.1M909.9 995.9V997.3M909.9 998.0V998.6M913.3 996.6V997.6M913.3 998.3V998.9M916.7 996.8V998.1M920.1 997.8V998.5M920.1 999.2V999.9M923.5 999.2V999.8M923.5 1000.9V1001.6M926.9 1000.9V1001.5M926.9 1002.7V1003.3M930.3 991.7V992.9M930.3 1003.0V1003.6M933.7 992.2V992.9M933.7 993.8V994.4M937.1 990.5V993.4M937.1 995.3V996.1M940.5 995.3V995.9M940.5 997.0V997.7M943.9 996.7V997.6M943.9 998.3V999.1M947.3 996.9V997.6M947.3 998.3V998.9M950.7 991.4V996.8M950.7 997.5V997.8M954.1 996.1V996.8M954.1 998.7V999.4M957.5 998.6V999.3M957.5 1000.0V1000.4M960.9 998.9V999.8M960.9 1000.5V1001.1M964.3 997.7V998.8M964.3 999.5V1000.1M967.7 997.9V998.8M967.7 999.5V1000.1M971.1 998.4V999.3M974.5 999.2V999.8M977.9 999.6V1000.5M981.3 1000.0V1000.9M984.7 999.8V1000.5M988.1 999.9V1000.5M988.1 1001.3V1001.9M991.5 1001.2V1001.9M994.9 1001.7V1002.7M998.3 1001.4V1002.7M1001.8 999.5V1000.2M1001.8 1002.1V1002.8M1005.2 999.2V1000.2M1005.2 1000.9V1001.5M1008.6 999.9V1001.0M1012.0 998.9V999.8M1012.0 1000.5V1001.1M1015.4 997.5V998.1M1015.4 999.2V999.9M1018.8 997.3V998.1M1018.8 998.8V999.3M1022.2 997.7V998.5M1022.2 999.2V999.9M1025.6 998.1V999.3M1025.6 1000.0V1000.5M1029.0 997.5V998.1M1029.0 998.8V999.5M1032.4 995.8V996.4M1032.4 997.5V998.2M1035.8 994.3V995.4M1035.8 996.1V996.9M1039.2 993.3V994.2M1039.2 994.9V995.9M1042.6 991.4V992.0M1042.6 993.6V994.3M1046.0 990.6V991.7M1049.4 991.0V991.7M1049.4 992.8V993.4M1052.8 991.4V992.0M1052.8 994.0V994.6M1056.2 990.9V992.0M1056.2 992.7V993.4M1059.6 990.9V992.0M1059.6 992.7V993.5M1063.0 986.2V986.9M1063.0 991.4V992.1M1066.4 982.8V983.5M1066.4 986.3V986.9M1069.8 978.9V982.3M1069.8 985.9V987.1M1073.2 985.4V986.0M1073.2 988.5V989.2M1076.6 988.1V989.1M1076.6 989.8V990.4M1080.0 982.8V983.5M1080.0 989.7V990.4M1083.4 982.8V983.5M1083.4 985.4V986.1M1086.8 983.8V985.2M1086.8 985.9V986.4M1090.2 981.9V982.6M1090.2 984.6V985.2M1093.7 979.4V980.0M1093.7 982.0V982.6M1097.1 978.8V980.0M1097.1 980.7V981.7M1100.5 977.7V978.3M1100.5 980.3V980.9M1103.9 974.2V974.9M1103.9 977.7V978.4M1107.3 972.5V973.2M1107.3 976.0V976.6M1110.7 974.1V975.7M1110.7 976.4V977.2M1114.1 971.7V972.3M1114.1 976.0V976.6M1117.5 970.8V971.5M1117.5 979.4V980.1M1120.9 977.5V978.8M1120.9 979.5V980.7M1124.3 976.2V977.5M1124.3 978.2V979.2M1127.7 975.5V976.8M1127.7 977.5V978.4M1131.1 974.6V975.7M1131.1 976.5V977.3M1134.5 973.2V974.5M1134.5 975.5V976.3M1137.9 971.3V972.3M1137.9 973.9V974.9M1141.3 967.0V967.7M1141.3 971.7V972.4M1144.7 966.4V967.2M1144.7 969.1V970.0M1148.1 968.8V969.7M1148.1 971.0V971.9M1151.5 970.4V971.6M1151.5 972.3V973.8M1154.9 969.7V970.6M1154.9 971.7V972.8M1158.3 969.2V970.3M1158.3 971.0V972.1M1161.7 969.6V970.9M1161.7 972.1V972.8M1165.1 969.4V970.3M1165.1 972.1V972.8M1168.5 968.6V970.3M1168.5 971.0V972.3M1171.9 967.4V968.0M1171.9 970.9V971.5M1175.3 963.1V963.7M1175.3 967.4V968.1M1178.7 962.5V963.4M1178.7 964.2V965.5M1182.1 957.9V958.6M1182.1 964.5V965.2M1185.6 951.1V951.7M1185.6 958.0V958.6M1189.0 945.1V945.7M1189.0 951.1V951.8M1192.4 943.8V944.5M1192.4 946.3V947.8M1195.8 941.7V942.3M1195.8 946.3V947.0M1199.2 929.7V930.3M1199.2 941.7V942.4M1202.6 915.4V930.5M1202.6 931.6V932.9M1206.0 929.8V931.2M1206.0 936.1V948.9M1209.4 925.7V929.8M1209.4 936.6V938.6M1212.8 927.1V929.1M1212.8 933.5V935.2M1216.2 931.6V932.9M1216.2 938.8V942.0M1219.6 937.4V938.9M1219.6 940.5V945.8M1223.0 930.5V931.2M1223.0 938.3V938.9M1226.4 929.2V930.8M1226.4 931.9V933.6M1229.8 928.8V930.1M1229.8 931.9V938.1M1233.2 923.2V925.2M1233.2 929.5V930.9M1236.6 923.7V925.2M1236.6 926.6V932.9M1240.0 921.6V923.5M1240.0 926.6V927.8M1243.4 921.4V922.9M1243.4 925.8V927.0M1246.8 925.4V926.4M1246.8 930.1V931.6M1250.2 924.9V926.4M1250.2 930.1V931.2M1253.6 922.7V924.3M1253.6 925.8V927.5M1257.0 912.5V913.2M1257.0 923.7V924.4M1260.4 903.1V903.7M1260.4 912.6V913.2M1263.8 894.5V900.3M1263.8 903.1V907.2M1267.2 894.5V895.2M1267.2 901.1V901.7M1270.6 877.4V878.0M1270.6 894.6V895.2M1274.0 869.8V871.2M1274.0 877.4V884.9M1277.5 859.7V870.8M1277.5 878.6V882.9M1280.9 873.4V874.6M1280.9 889.8V891.1M1284.3 878.1V879.2M1284.3 889.8V893.5M1287.7 876.9V879.2M1287.7 879.9V890.6M1291.1 868.3V879.2M1291.1 879.9V882.9M1294.5 878.6V879.7M1294.5 894.9V906.4M1297.9 877.7V889.5M1297.9 894.9V913.2M1301.3 878.1V888.6M1301.3 916.9V924.4M1304.7 896.6V898.6M1304.7 916.9V921.6M1308.1 886.3V887.4M1308.1 898.0V912.4M1311.5 878.6V879.7M1311.5 889.4V902.1M1314.9 864.9V879.0M1314.9 879.7V884.9M1318.3 872.6V876.3M1318.3 881.2V885.4M1321.7 877.4V878.9M1321.7 886.3V890.1M1325.1 869.1V870.6M1325.1 886.3V887.7M1328.5 867.4V868.6M1328.5 879.5V880.8M1331.9 872.6V874.6M1331.9 879.5V883.2M1335.3 870.9V872.9M1335.3 874.8V878.6M1338.7 861.9V862.6M1338.7 873.1V873.8M1342.1 852.9V854.0M1342.1 862.0V867.4M1345.5 829.4V830.9M1345.5 853.4V857.5M1348.9 830.2V830.9M1348.9 839.4V840.1M1352.3 824.2V831.4M1352.3 848.6V851.1M1355.7 836.2V848.9M1355.7 849.6V852.3M1359.1 839.1V844.9M1359.1 849.6V856.6M1362.5 838.3V841.2M1362.5 844.3V849.4M1365.9 831.9V832.6M1365.9 840.6V841.2M1369.4 819.8V821.4M1369.4 832.0V835.7M1372.8 819.8V821.1M1372.8 830.4V835.2M1376.2 819.4V820.6M1376.2 830.4V832.3M1379.6 807.4V808.6M1379.6 820.0V821.1M1383.0 794.6V795.7M1383.0 808.0V809.1M1386.4 786.9V788.9M1386.4 798.6V804.0M1389.8 786.0V788.0M1389.8 789.1V797.1M1393.2 787.2V788.5M1393.2 803.7V807.8M1396.6 788.6V789.7M1396.6 803.7V804.9M1400.0 782.3V784.3M1400.0 792.2V794.2M1403.4 760.1V762.1M1403.4 785.4V788.2M1406.8 758.7V760.1M1406.8 775.5V779.2M1410.2 761.8V764.2M1410.2 773.1V775.1M1413.6 748.2V749.3M1413.6 773.4V777.2M1417.0 695.3V712.7M1417.0 749.6V752.4M1420.4 695.3V712.7M1420.4 751.3V766.1M1423.8 726.0V728.0M1423.8 751.3V754.5M1427.2 717.5V727.7M1427.2 730.8V741.7M1430.6 724.0V725.5M1430.6 754.7V768.1M1434.0 726.9V728.9M1434.0 759.8V761.0M1437.4 719.2V728.9M1437.4 731.2V737.4M1440.8 730.8V731.8M1440.8 738.5V749.4M1444.2 738.0V739.1M1444.2 742.4V751.1M1447.6 741.0V742.5M1447.6 761.5V768.1M1451.0 747.3V752.7M1451.0 759.8V764.7M1454.4 748.2V750.2M1454.4 756.4V763.0M1457.8 737.1V738.3M1457.8 756.4V757.6M1461.3 719.5V721.2M1461.3 737.7V738.8M1464.7 718.4V721.2M1464.7 730.8V735.4M1468.1 726.9V729.7M1468.1 732.9V740.8M1471.5 731.1V732.3M1471.5 741.1V747.7M1474.9 737.1V739.1M1474.9 740.7V748.5M1478.3 738.8V740.0M1478.3 756.4V763.0M1481.7 752.4V753.9M1481.7 759.8V761.8M1485.1 754.1V755.3M1485.1 777.7V805.6M1488.5 775.4V776.6M1488.5 792.2V803.1M1491.9 787.4V788.5M1491.9 824.6V832.0M1495.3 801.4V803.0M1495.3 824.6V826.9M1498.7 785.7V789.4M1498.7 805.8V815.0M1502.1 789.1V790.2M1502.1 799.0V811.6M1505.5 798.5V799.6M1505.5 805.3V818.4M1508.9 804.8V805.9M1508.9 816.1V822.7M1512.3 815.5V816.7M1512.3 826.3V832.0M1515.7 814.3V815.8M1515.7 827.1V828.3M1519.1 801.9V803.0M1519.1 820.3V821.5M1522.5 793.3V803.0M1522.5 810.9V812.9M1525.9 804.4V805.6M1525.9 812.1V815.0M1529.3 807.0V808.1M1529.3 819.5V821.1M1532.7 805.3V806.4M1532.7 819.5V820.8M1536.1 801.9V803.4M1536.1 810.9V812.6M1539.5 805.8V806.8M1539.5 813.0V814.7M1542.9 811.2V812.4M1542.9 826.3V827.6M1546.3 818.9V820.1M1546.3 834.0V835.4M1549.7 827.4V828.9M1549.7 834.8V841.2M1553.2 821.5V823.5M1553.2 837.4V838.9M1556.6 808.9V815.0M1556.6 833.1V834.3M1560.0 812.9V814.1M1560.0 829.7V831.4M1563.4 824.5V825.5M1563.4 831.1V838.9M1566.8 823.2V826.9M1566.8 830.5V832.7M1570.2 823.2V827.2M1570.2 830.0V833.7M1573.6 827.4V828.6M1573.6 834.0V835.1M1577.0 832.5V833.7M1577.0 846.7V851.6M1580.4 834.3V838.8M1580.4 848.4V850.8M1583.8 837.7V838.8M1583.8 843.3V848.2M1587.2 830.8V839.7M1587.2 844.2V845.7M1590.6 838.5V839.7M1590.6 854.4V855.9M1594.0 849.6V850.7M1594.0 856.1V857.3M1597.4 841.9V843.1M1597.4 853.6V854.7M1600.8 817.2V818.4M1600.8 843.3V844.5M1604.2 813.3V815.0M1604.2 826.3V827.6M1607.6 810.9V812.4M1607.6 825.4V826.9M1611.0 809.2V810.7M1611.0 826.3V827.9M1614.4 798.5V799.6M1614.4 825.4V826.6M1617.8 796.2V797.9M1617.8 806.7V807.8M1621.2 796.2V797.9M1621.2 806.7V808.2M1624.6 799.3V806.1M1624.6 807.2V808.9M1628.0 805.3V806.4M1628.0 814.4V820.1M1631.4 803.1V804.4M1631.4 833.1V834.3M1634.8 830.0V831.5M1634.8 837.4V842.3M1638.2 824.9V826.0M1638.2 837.4V838.5M1641.6 817.2V818.4M1641.6 828.0V829.7M1645.1 816.4V818.7M1645.1 819.4V828.6M1648.5 811.2V815.0M1648.5 818.6V820.1M1651.9 814.3V815.3M1651.9 819.5V825.2M1655.3 811.2V815.8M1655.3 819.5V821.8M1658.7 814.7V815.8M1658.7 816.5V827.6M1662.1 804.4V805.6M1662.1 816.1V817.4M1665.5 799.3V805.9M1665.5 811.3V812.6M1668.9 810.4V811.5M1668.9 815.4V816.7M1672.3 809.5V812.4M1672.3 815.2V816.7M1675.7 807.8V809.0M1675.7 812.3V820.8M1679.1 797.9V799.6M1679.1 808.4V809.5M1682.5 798.5V799.6M1682.5 806.2V807.5M1685.9 798.5V805.6M1685.9 806.3V808.9M1689.3 797.6V805.6M1689.3 806.3V807.8M1692.7 805.3V806.4M1692.7 810.3V811.6M1696.1 808.2V809.3M1696.1 817.8V819.1M1699.5 816.4V817.5M1699.5 822.2V823.5M1702.9 821.8V822.8M1702.9 829.7V834.4M1706.3 825.2V826.9M1706.3 829.7V831.0M1709.7 820.6V825.2M1709.7 826.6V830.3M1713.1 821.5V823.1M1713.1 824.9V828.6M1716.5 812.9V814.1M1716.5 822.9V824.2M1719.9 805.3V806.4M1719.9 813.5V814.7M1723.3 801.9V806.1M1723.3 806.8V809.5M1726.7 805.3V806.4M1726.7 809.6V811.2M1730.1 809.2V810.2M1730.1 813.0V815.8M1733.5 807.8V809.0M1733.5 814.4V815.7M1737.0 783.6V785.1M1737.0 807.5V808.9M1740.4 781.4V782.9M1740.4 793.0V794.5M1743.8 761.8V768.1M1743.8 787.9V789.4M1747.2 761.8V767.2M1747.2 776.9V778.5M1750.6 768.2V769.3M1750.6 777.5V778.7M1754.0 770.2V771.2M1754.0 779.7V780.8M1757.4 767.7V769.3M1757.4 779.7V780.8M1760.8 752.5V754.4M1760.8 768.7V769.9M1764.2 738.3V755.9M1764.2 761.1V764.3M1767.6 736.0V755.1M1767.6 756.1V780.0M1771.0 720.3V734.7M1771.0 757.7V759.2M1774.4 722.6V726.9M1774.4 734.1V740.1M1777.8 716.8V718.2M1777.8 728.6V741.0M1781.2 679.7V681.3M1781.2 717.6V723.7M1784.6 664.5V681.6M1784.6 685.7V703.3M1788.0 680.7V682.1M1788.0 698.0V707.2M1791.4 692.3V693.9M1791.4 702.7V706.4M1794.8 687.3V703.3M1794.8 720.8V723.7M1798.2 697.0V698.6M1798.2 720.8V722.2M1801.6 688.1V698.6M1801.6 704.6V717.4M1805.0 703.8V704.9M1805.0 731.0V733.2M1808.4 725.0V726.9M1808.4 731.0V741.0M1811.8 718.4V719.8M1811.8 734.1V735.4M1815.2 696.4V697.8M1815.2 723.1V724.4M1818.6 695.9V697.0M1818.6 723.9V726.9M1822.0 710.5V711.9M1822.0 723.1V724.4M1825.4 711.6V713.0M1825.4 713.7V740.1M1828.9 710.8V711.9M1828.9 727.8V731.6M1832.3 715.6V717.4M1832.3 726.3V727.5M1835.7 703.0V714.3M1835.7 723.1V724.4M1839.1 711.6V712.7M1839.1 723.9V725.3M1842.5 707.4V708.8M1842.5 717.6V720.6M1845.9 685.7V699.4M1845.9 717.6V719.0M1849.3 666.9V690.7M1849.3 698.8V700.2M1852.7 680.2V690.7M1852.7 699.5V703.3M1856.1 697.5V698.6M1856.1 708.2V719.8M1859.5 702.2V703.3M1859.5 716.0V717.4M1862.9 714.8V715.9M1862.9 725.5V740.1M1866.3 714.0V720.6M1866.3 730.2V731.6M1869.7 727.3V728.4M1869.7 746.7V750.4M1873.1 729.7V746.5M1873.1 747.5V750.4M1876.5 719.5V720.6M1876.5 746.7V751.2M1879.9 710.1V711.1M1879.9 720.0V721.5M1883.3 687.0V688.4M1883.3 710.5V712.1M1886.7 685.7V688.4M1886.7 710.5V715.1M1890.1 677.1V681.3M1890.1 710.5V712.1M1893.5 670.0V682.1M1893.5 683.5V686.0M1896.9 665.3V681.3M1896.9 688.5V689.8M1900.3 680.7V682.1M1900.3 694.0V698.6M1903.7 676.6V678.2M1903.7 694.8V696.4M1907.1 679.4V680.5M1907.1 687.0V695.4M1910.5 684.9V686.0M1910.5 705.0V706.4M1913.9 677.1V678.2M1913.9 705.0V712.7M1917.3 667.2V668.7M1917.3 683.8V692.3M1920.7 652.7V668.4M1920.7 669.1V682.1M1924.2 665.0V668.7M1924.2 669.4V679.7M1927.6 666.5V669.7M1927.6 670.4V680.5M1931.0 633.1V634.2M1931.0 670.5V671.9M1934.4 598.5V624.7M1934.4 632.8V634.2M1937.8 597.4V617.2M1937.8 622.6V627.1M1941.2 605.7V616.9M1941.2 618.6V624.0M1944.6 589.1V592.9M1944.6 618.6V620.0M1948.0 575.4V583.7M1948.0 588.3V605.7M1951.4 549.7V559.2M1951.4 587.1V588.0M1954.8 532.6V542.0M1954.8 558.6V565.7M1958.2 538.0V540.3M1958.2 553.7V580.4M1961.6 540.0V554.3M1961.6 561.7V569.4M1965.0 522.0V526.3M1965.0 562.7V565.4M1968.4 501.0V520.3M1968.4 525.7V531.4M1971.8 466.0V467.3M1971.8 519.7V521.0M1975.2 402.0V438.3M1975.2 467.7V501.0M1978.6 413.0V438.3M1978.6 439.7V472.4M1982.0 408.0V436.3M1982.0 438.7V449.4M1985.4 413.0V432.3M1985.4 437.7V441.4M1988.8 397.0V398.3M1988.8 432.7V434.4" stroke="#3c3c3c" stroke-width="1.85" fill="none"/>
<path d="M94.77 1005.3h3.2v1.3h-3.2zM98.17 999.4h3.2v4.9h-3.2zM101.57 998.8h3.2v1.3h-3.2zM104.98 994.5h3.2v3.7h-3.2zM108.38 991.4h3.2v6.8h-3.2zM111.79 977.3h3.2v12.9h-3.2zM118.59 972.9h3.2v9.2h-3.2zM122.00 951.4h3.2v20.3h-3.2zM125.40 924.3h3.2v22.8h-3.2zM135.61 948.9h3.2v14.8h-3.2zM139.01 948.9h3.2v12.3h-3.2zM142.42 929.2h3.2v18.5h-3.2zM149.23 931.1h3.2v6.8h-3.2zM152.63 925.5h3.2v7.4h-3.2zM169.65 955.7h3.2v5.5h-3.2zM173.05 956.3h3.2v4.9h-3.2zM190.07 970.5h3.2v8.0h-3.2zM193.47 966.2h3.2v6.2h-3.2zM217.30 983.4h3.2v6.8h-3.2zM227.51 983.4h3.2v9.8h-3.2zM230.91 972.3h3.2v16.6h-3.2zM234.32 972.9h3.2v4.9h-3.2zM237.72 971.1h3.2v6.2h-3.2zM241.13 969.3h3.2v6.8h-3.2zM244.53 966.2h3.2v3.7h-3.2zM247.93 956.3h3.2v11.1h-3.2zM254.74 970.5h3.2v4.9h-3.2zM258.14 969.3h3.2v4.3h-3.2zM281.97 976.6h3.2v4.3h-3.2zM292.18 977.9h3.2v2.5h-3.2zM295.58 977.0h3.2v1.5h-3.2zM336.43 988.9h3.2v8.0h-3.2zM350.04 990.2h3.2v2.2h-3.2zM353.45 989.0h3.2v1.3h-3.2zM370.47 985.6h3.2v6.0h-3.2zM387.48 987.8h3.2v1.3h-3.2zM390.89 986.3h3.2v1.5h-3.2zM394.29 984.8h3.2v1.5h-3.2zM397.70 970.3h3.2v14.5h-3.2zM407.91 977.1h3.2v2.6h-3.2zM411.31 975.4h3.2v1.7h-3.2zM418.12 973.7h3.2v2.6h-3.2zM421.52 963.5h3.2v10.2h-3.2zM431.73 966.0h3.2v1.7h-3.2zM435.14 965.2h3.2v1.3h-3.2zM441.94 962.6h3.2v3.4h-3.2zM445.35 960.1h3.2v2.6h-3.2zM458.96 966.9h3.2v4.3h-3.2zM462.37 966.0h3.2v1.3h-3.2zM465.77 965.2h3.2v1.3h-3.2zM482.79 974.5h3.2v2.6h-3.2zM486.19 972.8h3.2v1.7h-3.2zM489.60 972.0h3.2v1.3h-3.2zM499.81 978.8h3.2v1.3h-3.2zM510.02 982.2h3.2v1.3h-3.2zM513.42 980.5h3.2v1.7h-3.2zM520.23 983.1h3.2v1.3h-3.2zM523.63 982.2h3.2v1.3h-3.2zM527.04 974.5h3.2v7.7h-3.2zM530.44 974.5h3.2v1.3h-3.2zM537.25 973.7h3.2v1.7h-3.2zM544.06 981.4h3.2v1.3h-3.2zM554.27 983.1h3.2v1.7h-3.2zM557.67 975.4h3.2v7.7h-3.2zM567.88 978.8h3.2v1.3h-3.2zM574.69 978.0h3.2v1.7h-3.2zM588.30 983.9h3.2v1.3h-3.2zM591.71 982.2h3.2v1.7h-3.2zM605.32 983.9h3.2v1.7h-3.2zM608.73 983.1h3.2v1.3h-3.2zM618.94 984.8h3.2v1.3h-3.2zM632.55 987.3h3.2v1.3h-3.2zM635.96 984.8h3.2v2.6h-3.2zM642.76 985.6h3.2v1.3h-3.2zM652.97 988.2h3.2v1.3h-3.2zM663.18 988.2h3.2v1.4h-3.2zM666.59 985.6h3.2v2.6h-3.2zM669.99 981.4h3.2v4.3h-3.2zM673.40 976.2h3.2v5.1h-3.2zM687.01 983.9h3.2v1.7h-3.2zM690.41 982.2h3.2v1.7h-3.2zM693.82 979.7h3.2v2.6h-3.2zM697.22 979.4h3.2v1.3h-3.2zM710.84 979.8h3.2v1.3h-3.2zM714.24 979.4h3.2v1.3h-3.2zM724.45 978.6h3.2v1.7h-3.2zM741.47 980.8h3.2v1.3h-3.2zM744.87 977.7h3.2v3.1h-3.2zM765.30 980.1h3.2v1.3h-3.2zM768.70 979.8h3.2v1.3h-3.2zM772.10 979.4h3.2v1.3h-3.2zM775.51 978.6h3.2v1.3h-3.2zM778.91 976.4h3.2v2.2h-3.2zM782.31 975.2h3.2v1.3h-3.2zM799.33 979.4h3.2v1.3h-3.2zM802.74 979.1h3.2v1.3h-3.2zM823.16 984.5h3.2v1.3h-3.2zM843.58 990.0h3.2v1.3h-3.2zM846.98 989.3h3.2v1.3h-3.2zM860.60 995.6h3.2v1.7h-3.2zM864.00 995.1h3.2v1.3h-3.2zM867.41 994.8h3.2v1.3h-3.2zM870.81 994.4h3.2v1.3h-3.2zM887.83 996.5h3.2v2.0h-3.2zM891.23 995.6h3.2v1.3h-3.2zM928.67 992.6h3.2v10.7h-3.2zM945.69 997.3h3.2v1.3h-3.2zM949.10 996.5h3.2v1.3h-3.2zM959.31 999.5h3.2v1.3h-3.2zM962.71 998.5h3.2v1.3h-3.2zM979.73 1000.6h3.2v1.3h-3.2zM983.13 1000.2h3.2v1.3h-3.2zM993.34 1002.4h3.2v1.3h-3.2zM996.75 1002.4h3.2v1.3h-3.2zM1000.15 999.9h3.2v2.6h-3.2zM1006.96 1000.7h3.2v1.3h-3.2zM1010.36 999.5h3.2v1.3h-3.2zM1013.77 997.8h3.2v1.7h-3.2zM1023.98 999.0h3.2v1.3h-3.2zM1027.38 997.8h3.2v1.3h-3.2zM1030.78 996.1h3.2v1.7h-3.2zM1034.19 995.1h3.2v1.3h-3.2zM1037.59 993.9h3.2v1.3h-3.2zM1041.00 991.7h3.2v2.2h-3.2zM1044.40 991.4h3.2v1.3h-3.2zM1051.21 991.7h3.2v2.6h-3.2zM1058.01 991.7h3.2v1.3h-3.2zM1061.42 986.6h3.2v5.1h-3.2zM1064.82 983.2h3.2v3.4h-3.2zM1078.44 983.2h3.2v6.9h-3.2zM1085.24 984.9h3.2v1.3h-3.2zM1088.65 982.3h3.2v2.6h-3.2zM1092.05 979.7h3.2v2.6h-3.2zM1098.86 978.0h3.2v2.6h-3.2zM1102.26 974.6h3.2v3.4h-3.2zM1109.07 975.4h3.2v1.3h-3.2zM1112.47 972.0h3.2v4.3h-3.2zM1119.28 978.5h3.2v1.3h-3.2zM1122.68 977.2h3.2v1.4h-3.2zM1126.09 976.5h3.2v1.3h-3.2zM1129.49 975.4h3.2v1.4h-3.2zM1132.90 974.2h3.2v1.5h-3.2zM1136.30 972.0h3.2v2.2h-3.2zM1139.70 967.4h3.2v4.6h-3.2zM1153.32 970.3h3.2v1.7h-3.2zM1163.53 970.0h3.2v2.4h-3.2zM1170.34 967.7h3.2v3.4h-3.2zM1173.74 963.4h3.2v4.3h-3.2zM1180.55 958.3h3.2v6.5h-3.2zM1183.95 951.4h3.2v6.9h-3.2zM1187.35 945.4h3.2v6.0h-3.2zM1194.16 942.0h3.2v4.6h-3.2zM1197.57 930.0h3.2v12.0h-3.2zM1207.78 929.5h3.2v7.4h-3.2zM1221.39 930.9h3.2v7.7h-3.2zM1228.20 929.8h3.2v2.4h-3.2zM1231.60 924.9h3.2v5.0h-3.2zM1238.41 923.2h3.2v3.8h-3.2zM1248.62 926.1h3.2v4.3h-3.2zM1252.02 924.0h3.2v2.1h-3.2zM1255.43 912.9h3.2v11.1h-3.2zM1258.83 903.4h3.2v9.4h-3.2zM1262.24 900.0h3.2v3.4h-3.2zM1265.64 894.9h3.2v6.5h-3.2zM1269.04 877.7h3.2v17.1h-3.2zM1272.45 870.9h3.2v6.9h-3.2zM1282.66 878.9h3.2v11.1h-3.2zM1289.47 878.9h3.2v1.3h-3.2zM1296.27 889.2h3.2v6.0h-3.2zM1303.08 898.3h3.2v18.9h-3.2zM1306.48 887.1h3.2v11.1h-3.2zM1309.89 879.4h3.2v10.3h-3.2zM1313.29 878.7h3.2v1.3h-3.2zM1323.50 870.3h3.2v16.3h-3.2zM1330.31 874.3h3.2v5.5h-3.2zM1333.71 872.6h3.2v2.6h-3.2zM1337.12 862.3h3.2v11.1h-3.2zM1340.52 853.7h3.2v8.6h-3.2zM1343.92 830.6h3.2v23.1h-3.2zM1357.54 844.6h3.2v5.3h-3.2zM1360.94 840.9h3.2v3.8h-3.2zM1364.35 832.3h3.2v8.6h-3.2zM1367.75 821.1h3.2v11.1h-3.2zM1374.56 820.3h3.2v10.5h-3.2zM1377.96 808.3h3.2v12.0h-3.2zM1381.37 795.4h3.2v12.9h-3.2zM1384.77 788.6h3.2v10.3h-3.2zM1388.17 787.7h3.2v1.7h-3.2zM1394.98 789.4h3.2v14.6h-3.2zM1398.38 784.0h3.2v8.5h-3.2zM1401.79 761.8h3.2v23.9h-3.2zM1412.00 749.0h3.2v24.7h-3.2zM1415.40 712.4h3.2v37.5h-3.2zM1422.21 727.7h3.2v23.9h-3.2zM1425.61 727.4h3.2v3.7h-3.2zM1432.42 728.6h3.2v31.5h-3.2zM1449.44 752.4h3.2v7.7h-3.2zM1452.84 749.9h3.2v6.8h-3.2zM1456.25 738.0h3.2v18.7h-3.2zM1459.65 720.9h3.2v17.0h-3.2zM1480.07 753.6h3.2v6.5h-3.2zM1493.69 802.7h3.2v22.2h-3.2zM1497.09 789.1h3.2v17.0h-3.2zM1514.11 815.5h3.2v11.9h-3.2zM1517.51 802.7h3.2v17.9h-3.2zM1531.13 806.1h3.2v13.6h-3.2zM1548.15 828.6h3.2v6.5h-3.2zM1551.55 823.2h3.2v14.5h-3.2zM1554.95 814.7h3.2v18.7h-3.2zM1565.17 826.6h3.2v4.3h-3.2zM1578.78 838.5h3.2v10.2h-3.2zM1585.59 839.4h3.2v5.1h-3.2zM1592.39 850.4h3.2v6.0h-3.2zM1595.80 842.8h3.2v11.1h-3.2zM1599.20 818.1h3.2v25.6h-3.2zM1602.61 814.7h3.2v11.9h-3.2zM1606.01 812.1h3.2v13.6h-3.2zM1612.82 799.3h3.2v26.4h-3.2zM1616.22 797.6h3.2v9.4h-3.2zM1623.03 805.8h3.2v1.7h-3.2zM1633.24 831.2h3.2v6.5h-3.2zM1636.64 825.7h3.2v11.9h-3.2zM1640.05 818.1h3.2v10.2h-3.2zM1646.85 814.7h3.2v4.3h-3.2zM1653.66 815.5h3.2v4.3h-3.2zM1660.47 805.3h3.2v11.1h-3.2zM1670.68 812.1h3.2v3.4h-3.2zM1674.08 808.7h3.2v3.9h-3.2zM1677.49 799.3h3.2v9.4h-3.2zM1684.29 805.3h3.2v1.3h-3.2zM1704.72 826.6h3.2v3.4h-3.2zM1708.12 824.9h3.2v2.0h-3.2zM1711.52 822.8h3.2v2.4h-3.2zM1714.93 813.8h3.2v9.4h-3.2zM1718.33 806.1h3.2v7.7h-3.2zM1721.74 805.8h3.2v1.3h-3.2zM1731.95 808.7h3.2v6.0h-3.2zM1735.35 784.8h3.2v23.0h-3.2zM1738.75 782.6h3.2v10.7h-3.2zM1742.16 767.8h3.2v20.5h-3.2zM1755.77 769.0h3.2v11.0h-3.2zM1759.18 754.1h3.2v14.9h-3.2zM1769.39 734.4h3.2v23.6h-3.2zM1772.79 726.6h3.2v7.9h-3.2zM1776.19 717.9h3.2v11.0h-3.2zM1779.60 681.0h3.2v36.9h-3.2zM1796.62 698.3h3.2v22.8h-3.2zM1806.83 726.6h3.2v4.7h-3.2zM1810.23 719.5h3.2v14.9h-3.2zM1813.64 697.5h3.2v25.9h-3.2zM1820.44 711.6h3.2v11.8h-3.2zM1830.65 717.1h3.2v9.4h-3.2zM1834.06 714.0h3.2v9.4h-3.2zM1837.46 712.4h3.2v11.8h-3.2zM1844.27 699.1h3.2v18.9h-3.2zM1847.67 690.4h3.2v8.6h-3.2zM1874.90 720.3h3.2v26.7h-3.2zM1878.31 710.8h3.2v9.4h-3.2zM1881.71 688.1h3.2v22.8h-3.2zM1888.52 681.0h3.2v29.9h-3.2zM1902.13 677.9h3.2v17.3h-3.2zM1912.34 677.9h3.2v27.5h-3.2zM1915.75 668.4h3.2v15.7h-3.2zM1919.15 668.1h3.2v1.3h-3.2zM1929.36 633.9h3.2v36.9h-3.2zM1932.76 624.4h3.2v8.6h-3.2zM1936.17 616.9h3.2v6.0h-3.2zM1942.98 592.6h3.2v26.3h-3.2zM1946.38 583.4h3.2v5.1h-3.2zM1949.78 558.9h3.2v28.6h-3.2zM1953.19 541.7h3.2v17.1h-3.2zM1963.40 526.0h3.2v37.0h-3.2zM1966.80 520.0h3.2v6.0h-3.2zM1970.21 467.0h3.2v53.0h-3.2zM1973.61 438.0h3.2v30.0h-3.2zM1983.82 432.0h3.2v6.0h-3.2zM1987.22 398.0h3.2v35.0h-3.2z" fill="#60a86f" fill-opacity="1"/>
<path d="M115.19 976.0h3.2v6.2h-3.2zM128.80 924.9h3.2v11.7h-3.2zM132.21 931.1h3.2v33.9h-3.2zM145.82 924.9h3.2v11.1h-3.2zM156.03 922.5h3.2v11.1h-3.2zM159.44 929.2h3.2v11.1h-3.2zM162.84 932.9h3.2v16.6h-3.2zM166.24 940.3h3.2v19.1h-3.2zM176.46 952.6h3.2v10.5h-3.2zM179.86 960.6h3.2v2.5h-3.2zM183.26 961.3h3.2v10.5h-3.2zM186.67 972.9h3.2v3.7h-3.2zM196.88 966.2h3.2v5.5h-3.2zM200.28 971.1h3.2v6.2h-3.2zM203.69 971.7h3.2v5.5h-3.2zM207.09 977.3h3.2v4.9h-3.2zM210.49 979.1h3.2v4.3h-3.2zM213.90 984.0h3.2v7.4h-3.2zM220.70 986.5h3.2v4.3h-3.2zM224.11 988.3h3.2v6.2h-3.2zM251.34 956.3h3.2v20.3h-3.2zM261.55 968.6h3.2v4.9h-3.2zM264.95 973.6h3.2v2.5h-3.2zM268.36 971.7h3.2v2.5h-3.2zM271.76 972.3h3.2v2.5h-3.2zM275.16 973.6h3.2v3.1h-3.2zM278.57 976.6h3.2v4.1h-3.2zM285.37 976.0h3.2v4.7h-3.2zM288.78 980.9h3.2v1.5h-3.2zM298.99 978.5h3.2v1.8h-3.2zM302.39 979.1h3.2v2.1h-3.2zM305.80 977.9h3.2v3.3h-3.2zM309.20 981.6h3.2v6.5h-3.2zM312.60 985.6h3.2v1.8h-3.2zM316.01 986.6h3.2v1.7h-3.2zM319.41 986.6h3.2v2.2h-3.2zM322.81 987.3h3.2v2.8h-3.2zM326.22 989.6h3.2v4.1h-3.2zM329.62 993.9h3.2v1.3h-3.2zM333.03 993.9h3.2v3.4h-3.2zM339.83 989.6h3.2v2.2h-3.2zM343.24 991.0h3.2v1.5h-3.2zM346.64 990.6h3.2v1.8h-3.2zM356.85 989.0h3.2v1.3h-3.2zM360.26 989.9h3.2v1.3h-3.2zM363.66 990.7h3.2v1.3h-3.2zM367.06 991.2h3.2v1.3h-3.2zM373.87 985.6h3.2v1.3h-3.2zM377.27 986.8h3.2v1.3h-3.2zM380.68 987.3h3.2v1.3h-3.2zM384.08 987.8h3.2v1.3h-3.2zM401.10 970.3h3.2v4.3h-3.2zM404.50 974.5h3.2v5.1h-3.2zM414.71 975.4h3.2v1.3h-3.2zM424.93 963.5h3.2v2.6h-3.2zM428.33 966.0h3.2v1.7h-3.2zM438.54 965.2h3.2v1.3h-3.2zM448.75 960.1h3.2v1.3h-3.2zM452.16 960.9h3.2v5.1h-3.2zM455.56 966.0h3.2v5.1h-3.2zM469.17 965.2h3.2v3.4h-3.2zM472.58 968.6h3.2v1.7h-3.2zM475.98 970.3h3.2v1.3h-3.2zM479.38 971.1h3.2v6.0h-3.2zM493.00 972.0h3.2v5.1h-3.2zM496.40 977.1h3.2v1.7h-3.2zM503.21 978.8h3.2v1.3h-3.2zM506.61 979.7h3.2v2.6h-3.2zM516.83 980.5h3.2v2.6h-3.2zM533.84 974.5h3.2v1.3h-3.2zM540.65 973.7h3.2v7.7h-3.2zM547.46 981.4h3.2v1.7h-3.2zM550.86 983.1h3.2v1.7h-3.2zM561.07 975.4h3.2v2.6h-3.2zM564.48 978.0h3.2v1.7h-3.2zM571.28 978.8h3.2v1.3h-3.2zM578.09 978.0h3.2v5.1h-3.2zM581.50 983.1h3.2v1.3h-3.2zM584.90 983.9h3.2v1.3h-3.2zM595.11 982.2h3.2v1.3h-3.2zM598.51 983.1h3.2v1.7h-3.2zM601.92 984.8h3.2v1.3h-3.2zM612.13 983.1h3.2v1.3h-3.2zM615.53 983.9h3.2v1.3h-3.2zM622.34 984.8h3.2v1.7h-3.2zM625.74 986.5h3.2v1.3h-3.2zM629.15 987.3h3.2v1.3h-3.2zM639.36 984.8h3.2v1.7h-3.2zM646.17 985.6h3.2v1.3h-3.2zM649.57 986.5h3.2v1.7h-3.2zM656.38 988.2h3.2v1.3h-3.2zM659.78 989.0h3.2v1.3h-3.2zM676.80 976.2h3.2v1.3h-3.2zM680.20 977.1h3.2v3.4h-3.2zM683.61 980.5h3.2v5.1h-3.2zM700.63 979.4h3.2v1.3h-3.2zM704.03 979.8h3.2v1.3h-3.2zM707.43 980.3h3.2v1.3h-3.2zM717.64 979.4h3.2v1.3h-3.2zM721.05 979.8h3.2v1.3h-3.2zM727.85 978.6h3.2v1.3h-3.2zM731.26 979.1h3.2v1.3h-3.2zM734.66 980.3h3.2v1.3h-3.2zM738.07 980.8h3.2v1.3h-3.2zM748.28 977.7h3.2v1.3h-3.2zM751.68 978.6h3.2v1.3h-3.2zM755.08 979.1h3.2v1.3h-3.2zM758.49 979.4h3.2v1.3h-3.2zM761.89 979.8h3.2v1.3h-3.2zM785.72 975.2h3.2v1.7h-3.2zM789.12 976.9h3.2v1.3h-3.2zM792.53 977.7h3.2v1.4h-3.2zM795.93 979.1h3.2v1.3h-3.2zM806.14 979.1h3.2v1.3h-3.2zM809.54 979.8h3.2v1.3h-3.2zM812.95 980.5h3.2v1.3h-3.2zM816.35 981.1h3.2v1.7h-3.2zM819.75 982.8h3.2v2.6h-3.2zM826.56 984.5h3.2v1.3h-3.2zM829.97 985.4h3.2v1.7h-3.2zM833.37 987.1h3.2v1.3h-3.2zM836.77 987.6h3.2v1.3h-3.2zM840.18 988.8h3.2v1.7h-3.2zM850.39 989.3h3.2v2.9h-3.2zM853.79 992.2h3.2v2.6h-3.2zM857.20 994.8h3.2v2.6h-3.2zM874.21 994.4h3.2v1.3h-3.2zM877.62 995.6h3.2v1.3h-3.2zM881.02 996.5h3.2v1.3h-3.2zM884.43 997.3h3.2v1.3h-3.2zM894.64 995.6h3.2v1.3h-3.2zM898.04 995.9h3.2v1.3h-3.2zM901.44 996.1h3.2v1.3h-3.2zM904.85 996.8h3.2v1.3h-3.2zM908.25 997.0h3.2v1.3h-3.2zM911.65 997.3h3.2v1.3h-3.2zM915.06 997.8h3.2v1.3h-3.2zM918.46 998.2h3.2v1.4h-3.2zM921.87 999.5h3.2v1.7h-3.2zM925.27 1001.2h3.2v1.7h-3.2zM932.08 992.6h3.2v1.5h-3.2zM935.48 993.1h3.2v2.6h-3.2zM938.88 995.6h3.2v1.7h-3.2zM942.29 997.3h3.2v1.3h-3.2zM952.50 996.5h3.2v2.6h-3.2zM955.90 999.0h3.2v1.3h-3.2zM966.11 998.5h3.2v1.3h-3.2zM969.52 999.0h3.2v1.3h-3.2zM972.92 999.5h3.2v1.3h-3.2zM976.33 1000.2h3.2v1.3h-3.2zM986.54 1000.2h3.2v1.4h-3.2zM989.94 1001.6h3.2v1.3h-3.2zM1003.55 999.9h3.2v1.3h-3.2zM1017.17 997.8h3.2v1.3h-3.2zM1020.57 998.2h3.2v1.4h-3.2zM1047.80 991.4h3.2v1.7h-3.2zM1054.61 991.7h3.2v1.3h-3.2zM1068.22 982.0h3.2v4.3h-3.2zM1071.63 985.7h3.2v3.1h-3.2zM1075.03 988.8h3.2v1.3h-3.2zM1081.84 983.2h3.2v2.6h-3.2zM1095.45 979.7h3.2v1.3h-3.2zM1105.67 972.9h3.2v3.4h-3.2zM1115.88 971.2h3.2v8.6h-3.2zM1143.11 966.9h3.2v2.6h-3.2zM1146.51 969.4h3.2v1.9h-3.2zM1149.91 971.3h3.2v1.3h-3.2zM1156.72 970.0h3.2v1.3h-3.2zM1160.12 970.6h3.2v1.7h-3.2zM1166.93 970.0h3.2v1.3h-3.2zM1177.14 963.1h3.2v1.4h-3.2zM1190.76 944.2h3.2v2.4h-3.2zM1200.97 930.2h3.2v1.7h-3.2zM1204.37 930.9h3.2v5.5h-3.2zM1211.18 928.8h3.2v5.0h-3.2zM1214.58 932.6h3.2v6.5h-3.2zM1217.99 938.6h3.2v2.2h-3.2zM1224.80 930.5h3.2v1.7h-3.2zM1235.01 924.9h3.2v2.1h-3.2zM1241.81 922.6h3.2v3.4h-3.2zM1245.22 926.1h3.2v4.3h-3.2zM1275.85 870.5h3.2v8.4h-3.2zM1279.25 874.3h3.2v15.8h-3.2zM1286.06 878.9h3.2v1.3h-3.2zM1292.87 879.4h3.2v15.8h-3.2zM1299.68 888.3h3.2v28.8h-3.2zM1316.70 876.0h3.2v5.5h-3.2zM1320.10 878.6h3.2v8.1h-3.2zM1326.91 868.3h3.2v11.5h-3.2zM1347.33 830.6h3.2v9.2h-3.2zM1350.73 831.1h3.2v17.8h-3.2zM1354.14 848.6h3.2v1.3h-3.2zM1371.15 820.8h3.2v9.9h-3.2zM1391.58 788.2h3.2v15.8h-3.2zM1405.19 759.8h3.2v16.0h-3.2zM1408.59 763.9h3.2v9.5h-3.2zM1418.81 712.4h3.2v39.2h-3.2zM1429.02 725.2h3.2v29.8h-3.2zM1435.82 728.6h3.2v2.9h-3.2zM1439.23 731.5h3.2v7.3h-3.2zM1442.63 738.8h3.2v3.9h-3.2zM1446.04 742.2h3.2v19.6h-3.2zM1463.05 720.9h3.2v10.2h-3.2zM1466.46 729.4h3.2v3.7h-3.2zM1469.86 732.0h3.2v9.4h-3.2zM1473.27 738.8h3.2v2.2h-3.2zM1476.67 739.7h3.2v17.0h-3.2zM1483.48 755.0h3.2v23.0h-3.2zM1486.88 776.3h3.2v16.2h-3.2zM1490.28 788.2h3.2v36.6h-3.2zM1500.49 789.9h3.2v9.4h-3.2zM1503.90 799.3h3.2v6.3h-3.2zM1507.30 805.6h3.2v10.7h-3.2zM1510.71 816.4h3.2v10.2h-3.2zM1520.92 802.7h3.2v8.5h-3.2zM1524.32 805.3h3.2v7.2h-3.2zM1527.72 807.8h3.2v11.9h-3.2zM1534.53 803.1h3.2v8.2h-3.2zM1537.94 806.5h3.2v6.8h-3.2zM1541.34 812.1h3.2v14.5h-3.2zM1544.74 819.8h3.2v14.5h-3.2zM1558.36 813.8h3.2v16.2h-3.2zM1561.76 825.2h3.2v6.1h-3.2zM1568.57 826.9h3.2v3.4h-3.2zM1571.97 828.3h3.2v6.0h-3.2zM1575.38 833.4h3.2v13.6h-3.2zM1582.18 838.5h3.2v5.1h-3.2zM1588.99 839.4h3.2v15.3h-3.2zM1609.41 810.4h3.2v16.2h-3.2zM1619.62 797.6h3.2v9.4h-3.2zM1626.43 806.1h3.2v8.5h-3.2zM1629.84 804.1h3.2v29.3h-3.2zM1643.45 818.4h3.2v1.3h-3.2zM1650.26 815.0h3.2v4.8h-3.2zM1657.07 815.5h3.2v1.3h-3.2zM1663.87 805.6h3.2v6.0h-3.2zM1667.28 811.2h3.2v4.4h-3.2zM1680.89 799.3h3.2v7.2h-3.2zM1687.70 805.3h3.2v1.3h-3.2zM1691.10 806.1h3.2v4.4h-3.2zM1694.51 809.0h3.2v9.0h-3.2zM1697.91 817.2h3.2v5.3h-3.2zM1701.31 822.5h3.2v7.5h-3.2zM1725.14 806.1h3.2v3.7h-3.2zM1728.54 809.9h3.2v3.4h-3.2zM1745.56 766.9h3.2v10.2h-3.2zM1748.96 769.0h3.2v8.8h-3.2zM1752.37 770.9h3.2v9.1h-3.2zM1762.58 755.6h3.2v5.8h-3.2zM1765.98 754.8h3.2v1.6h-3.2zM1783.00 681.3h3.2v4.7h-3.2zM1786.41 681.8h3.2v16.5h-3.2zM1789.81 693.6h3.2v9.4h-3.2zM1793.21 703.0h3.2v18.1h-3.2zM1800.02 698.3h3.2v6.6h-3.2zM1803.42 704.6h3.2v26.7h-3.2zM1817.04 696.7h3.2v27.5h-3.2zM1823.85 712.7h3.2v1.3h-3.2zM1827.25 711.6h3.2v16.5h-3.2zM1840.86 708.5h3.2v9.4h-3.2zM1851.08 690.4h3.2v9.4h-3.2zM1854.48 698.3h3.2v10.2h-3.2zM1857.88 703.0h3.2v13.4h-3.2zM1861.29 715.6h3.2v10.2h-3.2zM1864.69 720.3h3.2v10.2h-3.2zM1868.09 728.1h3.2v18.9h-3.2zM1871.50 746.2h3.2v1.6h-3.2zM1885.11 688.1h3.2v22.8h-3.2zM1891.92 681.8h3.2v2.0h-3.2zM1895.32 681.0h3.2v7.9h-3.2zM1898.73 681.8h3.2v12.6h-3.2zM1905.54 680.2h3.2v7.1h-3.2zM1908.94 685.7h3.2v19.6h-3.2zM1922.55 668.4h3.2v1.3h-3.2zM1925.96 669.4h3.2v1.3h-3.2zM1939.57 616.6h3.2v2.3h-3.2zM1956.59 540.0h3.2v14.0h-3.2zM1959.99 554.0h3.2v8.0h-3.2zM1977.01 438.0h3.2v2.0h-3.2zM1980.42 436.0h3.2v3.0h-3.2z" fill="#cb605b" fill-opacity="1"/>
<rect x="1991.2" y="377.4" width="4.2" height="23" fill="#60a86f"/>
<rect x="1990.8" y="333" width="5.2" height="44.6" fill="#b08b2e"/>
</g>
<path d="M2003.1 222V1071.7M2003.1 1079.2V1292" stroke="#77386f" stroke-width="2.2"/>
<path d="M93.5 1291H2004.2" stroke="#77386f" stroke-width="2.2"/>
<path d="M127.5 1291v8M331.7 1291v8M535.9 1291v8M740.1 1291v8M944.3 1291v8M1148.5 1291v8M1352.7 1291v8M1556.9 1291v8M1761.1 1291v8M1965.3 1291v8" stroke="#77386f" stroke-width="2"/>
<rect x="1883.8" y="64.2" width="216.1" height="40" rx="4" fill="none" stroke="#335e9a" stroke-width="1.9"/>
<g fill="none" stroke="#b4b4b4" stroke-width="6.6" stroke-linecap="butt"><path d="M105.4 1022.3V1060.7"/><circle cx="116.6" cy="1046.7" r="11"/><circle cx="147.6" cy="1046.7" r="11"/><path d="M158.4 1032.4V1060.7"/><path d="M170.1 1032.4V1060.7M170.1 1047.4A11.2 11.2 0 0 1 181.3 1036.2"/><path d="M205.1 1040.8A11 11 0 1 0 205.1 1052.6"/><path d="M215.8 1022.3V1060.7M215.8 1044.95A9.2 9.2 0 0 1 234.2 1044.95V1060.7"/><circle cx="256.2" cy="1046.7" r="11"/><path d="M267 1032.4V1060.7"/><path d="M278.4 1032.4V1060.7M278.4 1047.4A11.2 11.2 0 0 1 289.6 1036.2"/><path d="M298.8 1023V1060.7"/><path d="M291.4 1035.5H306.5" stroke-width="6.2"/></g>
<circle cx="50.6" cy="187.2" r="7.9" fill="none" stroke="#777" stroke-width="2"/><path d="M56.4 193L63.8 199.4" stroke="#777" stroke-width="2.2" stroke-linecap="round"/>
<path d="M546.2 190.2L551.4 195.4L556.6 190.2" fill="none" stroke="#222" stroke-width="2" stroke-linecap="round" stroke-linejoin="round"/>
<path d="M657.2 190.2L662.4 195.4L667.6 190.2" fill="none" stroke="#222" stroke-width="2" stroke-linecap="round" stroke-linejoin="round"/>
<path d="M738.6 190.2L743.8 195.4L749.0 190.2" fill="none" stroke="#222" stroke-width="2" stroke-linecap="round" stroke-linejoin="round"/>
<path d="M1166.8 190.2L1172.0 195.4L1177.2 190.2" fill="none" stroke="#222" stroke-width="2" stroke-linecap="round" stroke-linejoin="round"/>
<path d="M704.3 177.3V181M704.3 191V195.2M716 182.6V186.4M716 196.2V200.2" fill="none" stroke="#111" stroke-width="2.2" stroke-linecap="butt"/><rect x="701.3" y="181" width="6" height="10" fill="none" stroke="#111" stroke-width="2.2"/><rect x="713.1" y="186.4" width="5.9" height="9.9" fill="none" stroke="#111" stroke-width="2.2"/>
<path d="M1490.6 119.3H1483.2Q1480 119.3 1480 122.5V136.6Q1480 139.8 1483.2 139.8H1497.6Q1500.8 139.8 1500.8 136.6V129.4" fill="none" stroke="#2c4a74" stroke-width="2" stroke-linecap="round" stroke-linejoin="round"/><path d="M1487.4 132.2L1488.4 128.4L1499.6 116.8Q1500.9 115.6 1502.2 116.8Q1503.4 118 1502.3 119.4L1491.2 131.2Z" fill="none" stroke="#2c4a74" stroke-width="2" stroke-linecap="round" stroke-linejoin="round"/>
<circle cx="1644.7" cy="128" r="11.8" fill="none" stroke="#2b5aa0" stroke-width="2.9"/><path d="M1639 128H1650.4M1644.7 122.3V133.7" fill="none" stroke="#2b5aa0" stroke-width="2.9" stroke-linecap="round"/>
<circle cx="1754.35" cy="128.9" r="13.1" fill="#f2ad3e"/><rect x="1752.2" y="121.3" width="4.3" height="11.3" fill="#fff"/><rect x="1752.2" y="133.8" width="4.3" height="3.9" fill="#fff"/>
<path d="M1865.8 116.0L1869.6 124.4L1878.8 125.5L1872.0 131.7L1873.9 140.8L1865.8 136.2L1857.7 140.8L1859.6 131.7L1852.8 125.5L1862.0 124.4Z" fill="none" stroke="#2e5ea6" stroke-width="2.9" stroke-linejoin="miter"/>
<path d="M1983 124.6H1995.4L1989.2 131.4Z" fill="#264b7e" stroke="#264b7e" stroke-width="1" stroke-linejoin="round"/>
<circle cx="2075.5" cy="130" r="12.3" fill="none" stroke="#264b7e" stroke-width="2.6"/>
<path d="M2073 91L2083.4 80.6" fill="none" stroke="#335e9a" stroke-width="2.5"/><path d="M2087.3 76.7L2078.6 78L2086 85.4Z" fill="#335e9a"/>
<path d="M1951.3 186.9L1951.3 190.7L1948.2 191.1L1947.2 193.6L1949.1 196.1L1946.4 198.8L1943.9 196.9L1941.4 197.9L1941.0 201.0L1937.2 201.0L1936.8 197.9L1934.3 196.9L1931.8 198.8L1929.1 196.1L1931.0 193.6L1930.0 191.1L1926.9 190.7L1926.9 186.9L1930.0 186.5L1931.0 184.0L1929.1 181.5L1931.8 178.8L1934.3 180.7L1936.8 179.7L1937.2 176.6L1941.0 176.6L1941.4 179.7L1943.9 180.7L1946.4 178.8L1949.1 181.5L1947.2 184.0L1948.2 186.5Z" fill="none" stroke="#111" stroke-width="2.5" stroke-linejoin="round"/><circle cx="1939.1" cy="188.8" r="3.6" fill="none" stroke="#111" stroke-width="2.5"/>
<path d="M1995.6 187.8L2003.3 180.2L2011.0 187.8" fill="none" stroke="#111" stroke-width="2.8" stroke-linecap="round" stroke-linejoin="round"/>
<path d="M1995.6 198.0L2003.3 190.4L2011.0 198.0" fill="none" stroke="#111" stroke-width="2.8" stroke-linecap="round" stroke-linejoin="round"/>
<path d="M2058.2 176.6A12.6 12.6 0 1 0 2069.8 191A10.4 10.4 0 0 1 2058.2 176.6Z" fill="none" stroke="#111" stroke-width="2.5" stroke-linecap="round" stroke-linejoin="round"/>
<path d="M80.7 248.4L86.5 253.7L80.7 259.0" fill="none" stroke="#555" stroke-width="1.5" stroke-linecap="round" stroke-linejoin="round"/>
<path d="M80.7 302.2L86.5 307.5L80.7 312.8" fill="none" stroke="#555" stroke-width="1.5" stroke-linecap="round" stroke-linejoin="round"/>
<path d="M80.7 356.2L86.5 361.5L80.7 366.8" fill="none" stroke="#555" stroke-width="1.5" stroke-linecap="round" stroke-linejoin="round"/>
<path d="M80.7 410.2L86.5 415.5L80.7 420.8" fill="none" stroke="#555" stroke-width="1.5" stroke-linecap="round" stroke-linejoin="round"/>
<path d="M80.7 464.2L86.5 469.5L80.7 474.8" fill="none" stroke="#555" stroke-width="1.5" stroke-linecap="round" stroke-linejoin="round"/>
<path d="M80.7 518.2L86.5 523.5L80.7 528.8" fill="none" stroke="#555" stroke-width="1.5" stroke-linecap="round" stroke-linejoin="round"/>
<path d="M39.6 253.8H49.8M56.4 253.8H66.8" fill="none" stroke="#111" stroke-width="2" stroke-linecap="round" stroke-linejoin="round"/><circle cx="53.1" cy="253.8" r="2.9" fill="none" stroke="#111" stroke-width="2" stroke-linecap="round" stroke-linejoin="round"/>
<circle cx="45.7" cy="298.2" r="3" fill="none" stroke="#111" stroke-width="2" stroke-linecap="round" stroke-linejoin="round"/><circle cx="40.9" cy="317.8" r="3" fill="none" stroke="#111" stroke-width="2" stroke-linecap="round" stroke-linejoin="round"/><path d="M45 301.2L41.6 314.8M52.2 298.2H68.8M52.2 304.5H68.8M52.2 310.9H68.8M52.2 317.4H68.8" fill="none" stroke="#111" stroke-width="2" stroke-linecap="round" stroke-linejoin="round"/>
<circle cx="53.1" cy="361.8" r="12.2" fill="none" stroke="#111" stroke-width="2" stroke-linecap="round" stroke-linejoin="round"/>
<circle cx="53.1" cy="350.4" r="3.2" fill="#fff" stroke="#111" stroke-width="2"/>
<circle cx="40.4" cy="361.8" r="3.2" fill="#fff" stroke="#111" stroke-width="2"/>
<circle cx="65.8" cy="361.8" r="3.2" fill="#fff" stroke="#111" stroke-width="2"/>
<circle cx="53.1" cy="373.1" r="3.2" fill="#fff" stroke="#111" stroke-width="2"/>
<path d="M39.3 408V409.4A13.8 13.8 0 0 0 66.9 409.4V408H61.2V409.4A8.1 8.1 0 0 1 45 409.4V408Z" fill="none" stroke="#111" stroke-width="2" stroke-linecap="round" stroke-linejoin="round"/>
<circle cx="53.1" cy="469.7" r="13.9" fill="none" stroke="#111" stroke-width="2" stroke-linecap="round" stroke-linejoin="round"/>
<path d="M43.4 512.3H67.8M43.4 526.6H62.8M43.4 534.9H67.8M53.1 515V532.4" fill="none" stroke="#111" stroke-width="2" stroke-linecap="round" stroke-linejoin="round"/><path d="M50.2 518.2L53.1 513.8L56 518.2ZM50.2 529.2L53.1 533.6L56 529.2Z" fill="#111" stroke="#111" stroke-width="0.8" stroke-linejoin="round"/><circle cx="40.3" cy="512.3" r="2.8" fill="#fff" stroke="#111" stroke-width="2"/><circle cx="40.3" cy="526.6" r="2.8" fill="#fff" stroke="#111" stroke-width="2"/><circle cx="40.3" cy="534.9" r="2.8" fill="#fff" stroke="#111" stroke-width="2"/><circle cx="65.9" cy="526.6" r="2.8" fill="#fff" stroke="#111" stroke-width="2"/>
<path d="M39.2 608.6V591.4A13.8 13.8 0 0 1 66.8 591.4V608.6H59.4V591.6A6.4 6.4 0 0 0 46.6 591.6V608.6ZM39.2 601.6H46.6M59.4 601.6H66.8" fill="none" stroke="#111" stroke-width="2.3" stroke-linejoin="miter"/>
<rect x="39.8" y="646.2" width="26.6" height="14.6" rx="1" fill="none" stroke="#111" stroke-width="2.5" stroke-linecap="round" stroke-linejoin="round"/><path d="M45.6 646V640.4A7.4 7.4 0 0 1 59.6 637.2" fill="none" stroke="#111" stroke-width="2.5" stroke-linecap="round" stroke-linejoin="round"/>
<path d="M42 692.8A12.6 12.6 0 1 1 40.4 704.6M37.6 688.4V697H46.2" fill="none" stroke="#111" stroke-width="2.5" stroke-linecap="round" stroke-linejoin="round"/>
<path d="M64.8 746.6A12.6 12.6 0 1 0 66.2 758.4M69.2 742.4V751H60.6" fill="none" stroke="#bcbcbc" stroke-width="2.6" stroke-linecap="round" stroke-linejoin="round"/>
<path d="M40 815.6H66.6M47.6 815.4V813Q47.6 810.4 50.2 810.4H56.4Q59 810.4 59 813V815.4M43.2 815.8V835.6Q43.2 838.2 45.8 838.2H60.8Q63.4 838.2 63.4 835.6V815.8" fill="none" stroke="#111" stroke-width="2.5" stroke-linecap="round" stroke-linejoin="round"/>
<circle cx="51.7" cy="876.3" r="10.7" fill="none" stroke="#111" stroke-width="2.5" stroke-linecap="round" stroke-linejoin="round"/><path d="M59.6 884.4L66 890.4" fill="none" stroke="#111" stroke-width="2.5" stroke-linecap="round" stroke-linejoin="round"/><path d="M46.9 876.3H56.5M51.7 871.5V881.1" fill="none" stroke="#111" stroke-width="2.8" stroke-linecap="round"/>
<circle cx="51.7" cy="930.5" r="10.7" fill="none" stroke="#111" stroke-width="2.5" stroke-linecap="round" stroke-linejoin="round"/><path d="M59.6 938.6L66 944.6" fill="none" stroke="#111" stroke-width="2.5" stroke-linecap="round" stroke-linejoin="round"/><path d="M46.9 930.5H56.5" fill="none" stroke="#111" stroke-width="2.8" stroke-linecap="round"/>
<path d="M52 994.4L45 1001.2L52 1008M62.2 994.4L55.2 1001.2L62.2 1008" fill="none" stroke="#111" stroke-width="2.9" stroke-linecap="round" stroke-linejoin="round"/>
<path d="M121.7 256.4Q133.4 242.4 145.1 256.4Q133.4 270.4 121.7 256.4Z" fill="none" stroke="#111" stroke-width="2" stroke-linejoin="round"/><circle cx="133.4" cy="256.4" r="5.3" fill="#1a1a1a"/><circle cx="131.0" cy="258.79999999999995" r="1.4" fill="#fff"/>
<circle cx="156.0" cy="250.3" r="1.7" fill="#111"/><circle cx="163.2" cy="250.3" r="1.7" fill="#111"/><circle cx="170.4" cy="250.3" r="1.7" fill="#111"/>
<circle cx="280.8" cy="255.2" r="1.75" fill="#111"/><circle cx="339" cy="255.2" r="1.75" fill="#111"/>
<rect x="179.8" y="237.1" width="6.6" height="29.6" fill="#000"/>
<path d="M1975.5 251.5L1979.6 255.7L1983.7 251.5" fill="none" stroke="#111" stroke-width="1.7" stroke-linecap="round" stroke-linejoin="round"/>
<path d="M126.6 1107.6L140.4 1121M140.4 1107.6L126.6 1121" fill="none" stroke="#111" stroke-width="1.9" stroke-linecap="round"/>
<path d="M152.1 1113.6Q163.8 1099.6 175.5 1113.6Q163.8 1127.6 152.1 1113.6Z" fill="none" stroke="#111" stroke-width="2" stroke-linejoin="round"/><circle cx="163.8" cy="1113.6" r="5.3" fill="#1a1a1a"/><circle cx="161.4" cy="1116.0" r="1.4" fill="#fff"/>
<circle cx="186.5" cy="1107.4" r="1.7" fill="#111"/><circle cx="193.2" cy="1107.4" r="1.7" fill="#111"/><circle cx="200.0" cy="1107.4" r="1.7" fill="#111"/>
<rect x="208.9" y="1093.9" width="6.8" height="29.9" fill="#3b9d45"/>
<path d="M1974.8 1114.1L1979.8 1108.3L1984.8 1114.1" fill="none" stroke="#111" stroke-width="1.5" stroke-linecap="round" stroke-linejoin="round"/>
<rect x="995.7" y="1356.6" width="19.4" height="20" rx="1.4" fill="none" stroke="#111" stroke-width="2.5" stroke-linecap="round" stroke-linejoin="round"/><path d="M995.7 1362.9H1015.1M1000.8 1354.2V1359.2M1009.9 1354.2V1359.2" fill="none" stroke="#111" stroke-width="2.5" stroke-linecap="round" stroke-linejoin="round"/>
<path d="M1935.9 1358.9L1941.7 1364.5L1947.5 1358.9" fill="none" stroke="#111" stroke-width="2.6" stroke-linecap="round" stroke-linejoin="round"/>
<path d="M1935.9 1367.2L1941.7 1372.8L1947.5 1367.2" fill="none" stroke="#111" stroke-width="2.6" stroke-linecap="round" stroke-linejoin="round"/>
<rect x="2003" y="330.5" width="94.5" height="35" fill="#4caf5a"/>
<rect x="2003" y="1097.2" width="77.1" height="35.7" fill="#e02d38"/>
<g font-family="Liberation Sans, sans-serif" style="will-change:transform;opacity:0.999">
<text x="17.2" y="34.3" font-size="31.8" fill="#000" font-weight="bold" textLength="319.8" lengthAdjust="spacingAndGlyphs">Gold Oct '25 (GCV25)</text>
<text x="16.9" y="70.3" font-size="24.6" fill="#000" font-weight="bold" textLength="89.3" lengthAdjust="spacingAndGlyphs">3,766.2</text>
<text x="113.8" y="70.3" font-size="24.6" fill="#ae2a20" font-weight="bold" textLength="169.1" lengthAdjust="spacingAndGlyphs">-18.0 (-0.48%)</text>
<text x="291.6" y="70.6" font-size="22.2" fill="#666" textLength="180.6" lengthAdjust="spacingAndGlyphs">17:13 CT [COMEX]</text>
<text x="21.9" y="103.5" font-size="22" fill="#2f6d3d" textLength="108.7" lengthAdjust="spacingAndGlyphs">3,765.8 x 3</text>
<text x="155.6" y="103.5" font-size="22" fill="#b0282a" textLength="109.2" lengthAdjust="spacingAndGlyphs">3,766.2 x 3</text>
<text x="17.6" y="137.1" font-size="20.4" fill="#000" font-weight="bold" textLength="146.2" lengthAdjust="spacingAndGlyphs">CHART PANEL</text>
<text x="171.4" y="137.1" font-size="20.2" fill="#444" textLength="243.4" lengthAdjust="spacingAndGlyphs">for Wed, Sep 24th, 2025</text>
<text x="1893.5" y="92.4" font-size="21.6" fill="#335e9a" textLength="167.3" lengthAdjust="spacingAndGlyphs">Full Screen Chart</text>
<text x="1413.5" y="137.0" font-size="21.6" fill="#264b7e" textLength="57.3" lengthAdjust="spacingAndGlyphs">Notes</text>
<text x="1523.7" y="137.0" font-size="21.6" fill="#264b7e" textLength="97.8" lengthAdjust="spacingAndGlyphs">My Charts</text>
<text x="1678.8" y="137.2" font-size="21.6" fill="#264b7e" textLength="56.0" lengthAdjust="spacingAndGlyphs">Alerts</text>
<text x="1786.7" y="137.0" font-size="21.6" fill="#264b7e" textLength="60.0" lengthAdjust="spacingAndGlyphs">Watch</text>
<text x="1897.5" y="137.0" font-size="21.6" fill="#264b7e" textLength="74.5" lengthAdjust="spacingAndGlyphs">Actions</text>
<text x="2009.8" y="137.8" font-size="21.6" fill="#264b7e" textLength="45.2" lengthAdjust="spacingAndGlyphs">Help</text>
<text x="77.2" y="197.8" font-size="23" fill="#777" font-style="italic" textLength="85.3" lengthAdjust="spacingAndGlyphs">Symbol...</text>
<text x="363.0" y="198.0" font-size="23" fill="#111" textLength="168.0" lengthAdjust="spacingAndGlyphs">Monthly Nearby</text>
<text x="586.7" y="198.0" font-size="23" fill="#111" textLength="54.7" lengthAdjust="spacingAndGlyphs">None</text>
<text x="784.0" y="198.0" font-size="23" fill="#111" textLength="102.5" lengthAdjust="spacingAndGlyphs">Indicators</text>
<text x="921.3" y="198.0" font-size="23" fill="#111" textLength="94.5" lengthAdjust="spacingAndGlyphs">Compare</text>
<text x="1050.6" y="198.0" font-size="23" fill="#111" textLength="33.1" lengthAdjust="spacingAndGlyphs">f(x)</text>
<text x="1114.9" y="198.0" font-size="23" fill="#111" textLength="36.4" lengthAdjust="spacingAndGlyphs">1x1</text>
<text x="1786.7" y="197.7" font-size="23" fill="#111" textLength="103.9" lengthAdjust="spacingAndGlyphs">Templates</text>
<text x="194.8" y="262.1" font-size="24.5" fill="#000" font-weight="bold" textLength="76.6" lengthAdjust="spacingAndGlyphs">GCZ25</text>
<text x="287.3" y="262.1" font-size="24.8" fill="#111" textLength="46.6" lengthAdjust="spacingAndGlyphs">1Mn</text>
<text x="226.2" y="1118.3" font-size="24.4" fill="#000" font-weight="bold" textLength="158.2" lengthAdjust="spacingAndGlyphs">RSI (14, MA, 5)</text>
<text x="2021.4" y="354.6" font-size="20.6" fill="#fff" font-weight="bold" textLength="68.0" lengthAdjust="spacingAndGlyphs">3,796.9</text>
<text x="2021.2" y="1121.3" font-size="20.6" fill="#fff" font-weight="bold" textLength="51.1" lengthAdjust="spacingAndGlyphs">89.72</text>
<text x="1997.9" y="1374.6" font-size="23.8" fill="#111" textLength="17.3" lengthAdjust="spacingAndGlyphs">%</text>
<text x="2050.6" y="1374.6" font-size="24.2" fill="#111" textLength="29.6" lengthAdjust="spacingAndGlyphs">log</text>
<text x="2023.2" y="318.1" font-size="20" fill="#555" textLength="67.2" lengthAdjust="spacingAndGlyphs">4,000.0</text>
<text x="2023.2" y="410.6" font-size="20" fill="#555" textLength="67.2" lengthAdjust="spacingAndGlyphs">3,500.0</text>
<text x="2023.2" y="502.9" font-size="20" fill="#555" textLength="67.2" lengthAdjust="spacingAndGlyphs">3,000.0</text>
<text x="2023.2" y="595.3" font-size="20" fill="#555" textLength="67.2" lengthAdjust="spacingAndGlyphs">2,500.0</text>
<text x="2023.2" y="687.7" font-size="20" fill="#555" textLength="67.2" lengthAdjust="spacingAndGlyphs">2,000.0</text>
<text x="2023.2" y="780.1" font-size="20" fill="#555" textLength="67.2" lengthAdjust="spacingAndGlyphs">1,500.0</text>
<text x="2023.2" y="872.5" font-size="20" fill="#555" textLength="67.2" lengthAdjust="spacingAndGlyphs">1,000.0</text>
<text x="2023.2" y="964.9" font-size="20" fill="#555" textLength="50.3" lengthAdjust="spacingAndGlyphs">500.0</text>
<text x="2023.2" y="1057.1" font-size="20" fill="#555" textLength="27.6" lengthAdjust="spacingAndGlyphs">0.0</text>
<text x="105.9" y="1322.2" font-size="20.4" fill="#5e5e5e" textLength="44.8" lengthAdjust="spacingAndGlyphs">1980</text>
<text x="310.1" y="1322.2" font-size="20.4" fill="#5e5e5e" textLength="44.8" lengthAdjust="spacingAndGlyphs">1985</text>
<text x="514.3" y="1322.2" font-size="20.4" fill="#5e5e5e" textLength="44.8" lengthAdjust="spacingAndGlyphs">1990</text>
<text x="718.5" y="1322.2" font-size="20.4" fill="#5e5e5e" textLength="44.8" lengthAdjust="spacingAndGlyphs">1995</text>
<text x="922.7" y="1322.2" font-size="20.4" fill="#5e5e5e" textLength="44.8" lengthAdjust="spacingAndGlyphs">2000</text>
<text x="1126.9" y="1322.2" font-size="20.4" fill="#5e5e5e" textLength="44.8" lengthAdjust="spacingAndGlyphs">2005</text>
<text x="1331.1" y="1322.2" font-size="20.4" fill="#5e5e5e" textLength="44.8" lengthAdjust="spacingAndGlyphs">2010</text>
<text x="1535.3" y="1322.2" font-size="20.4" fill="#5e5e5e" textLength="44.8" lengthAdjust="spacingAndGlyphs">2015</text>
<text x="1739.5" y="1322.2" font-size="20.4" fill="#5e5e5e" textLength="44.8" lengthAdjust="spacingAndGlyphs">2020</text>
<text x="1943.7" y="1322.2" font-size="20.4" fill="#5e5e5e" textLength="44.8" lengthAdjust="spacingAndGlyphs">2025</text>
<text x="126.8" y="1374.5" font-size="24" fill="#111" textLength="29.5" lengthAdjust="spacingAndGlyphs">1D</text>
<text x="184.8" y="1374.5" font-size="24" fill="#111" textLength="30.4" lengthAdjust="spacingAndGlyphs">5D</text>
<text x="244.2" y="1374.5" font-size="24" fill="#111" textLength="32.8" lengthAdjust="spacingAndGlyphs">1M</text>
<text x="305.5" y="1374.5" font-size="24" fill="#111" textLength="33.8" lengthAdjust="spacingAndGlyphs">2M</text>
<text x="368.3" y="1374.5" font-size="24" fill="#111" textLength="33.8" lengthAdjust="spacingAndGlyphs">3M</text>
<text x="431.0" y="1374.5" font-size="24" fill="#111" textLength="33.9" lengthAdjust="spacingAndGlyphs">6M</text>
<text x="493.9" y="1374.5" font-size="24" fill="#111" textLength="32.8" lengthAdjust="spacingAndGlyphs">9M</text>
<text x="556.7" y="1374.5" font-size="24" fill="#111" textLength="25.6" lengthAdjust="spacingAndGlyphs">1Y</text>
<text x="611.2" y="1374.5" font-size="24" fill="#111" textLength="26.6" lengthAdjust="spacingAndGlyphs">2Y</text>
<text x="666.8" y="1374.5" font-size="24" fill="#111" textLength="26.5" lengthAdjust="spacingAndGlyphs">3Y</text>
<text x="722.3" y="1374.5" font-size="24" fill="#111" textLength="26.6" lengthAdjust="spacingAndGlyphs">5Y</text>
<text x="778.8" y="1374.5" font-size="24" fill="#111" textLength="39.2" lengthAdjust="spacingAndGlyphs">10Y</text>
<text x="846.9" y="1374.5" font-size="24" fill="#111" textLength="40.6" lengthAdjust="spacingAndGlyphs">20Y</text>
<text x="917.0" y="1374.5" font-size="24" fill="#111" textLength="44.4" lengthAdjust="spacingAndGlyphs">Max</text>
<g clip-path="url(#cl)">
<text x="2023.6" y="1096.6" font-size="20" fill="#555" textLength="62.0" lengthAdjust="spacingAndGlyphs">100.00</text>
<text x="2023.6" y="1145.6" font-size="20" fill="#555" textLength="50.0" lengthAdjust="spacingAndGlyphs">80.00</text>
<text x="2023.6" y="1195.1" font-size="20" fill="#555" textLength="50.0" lengthAdjust="spacingAndGlyphs">60.00</text>
<text x="2023.6" y="1244.6" font-size="20" fill="#555" textLength="50.0" lengthAdjust="spacingAndGlyphs">40.00</text>
<text x="2023.6" y="1294.1" font-size="20" fill="#555" textLength="50.0" lengthAdjust="spacingAndGlyphs">20.00</text>
</g><text x="2075.6" y="138.2" font-size="22.5" font-weight="bold" fill="#264b7e" text-anchor="middle">?</text><text x="53.1" y="476.8" font-size="19.5" fill="#111" text-anchor="middle">3</text>
</g>
</svg>

</body></html>
